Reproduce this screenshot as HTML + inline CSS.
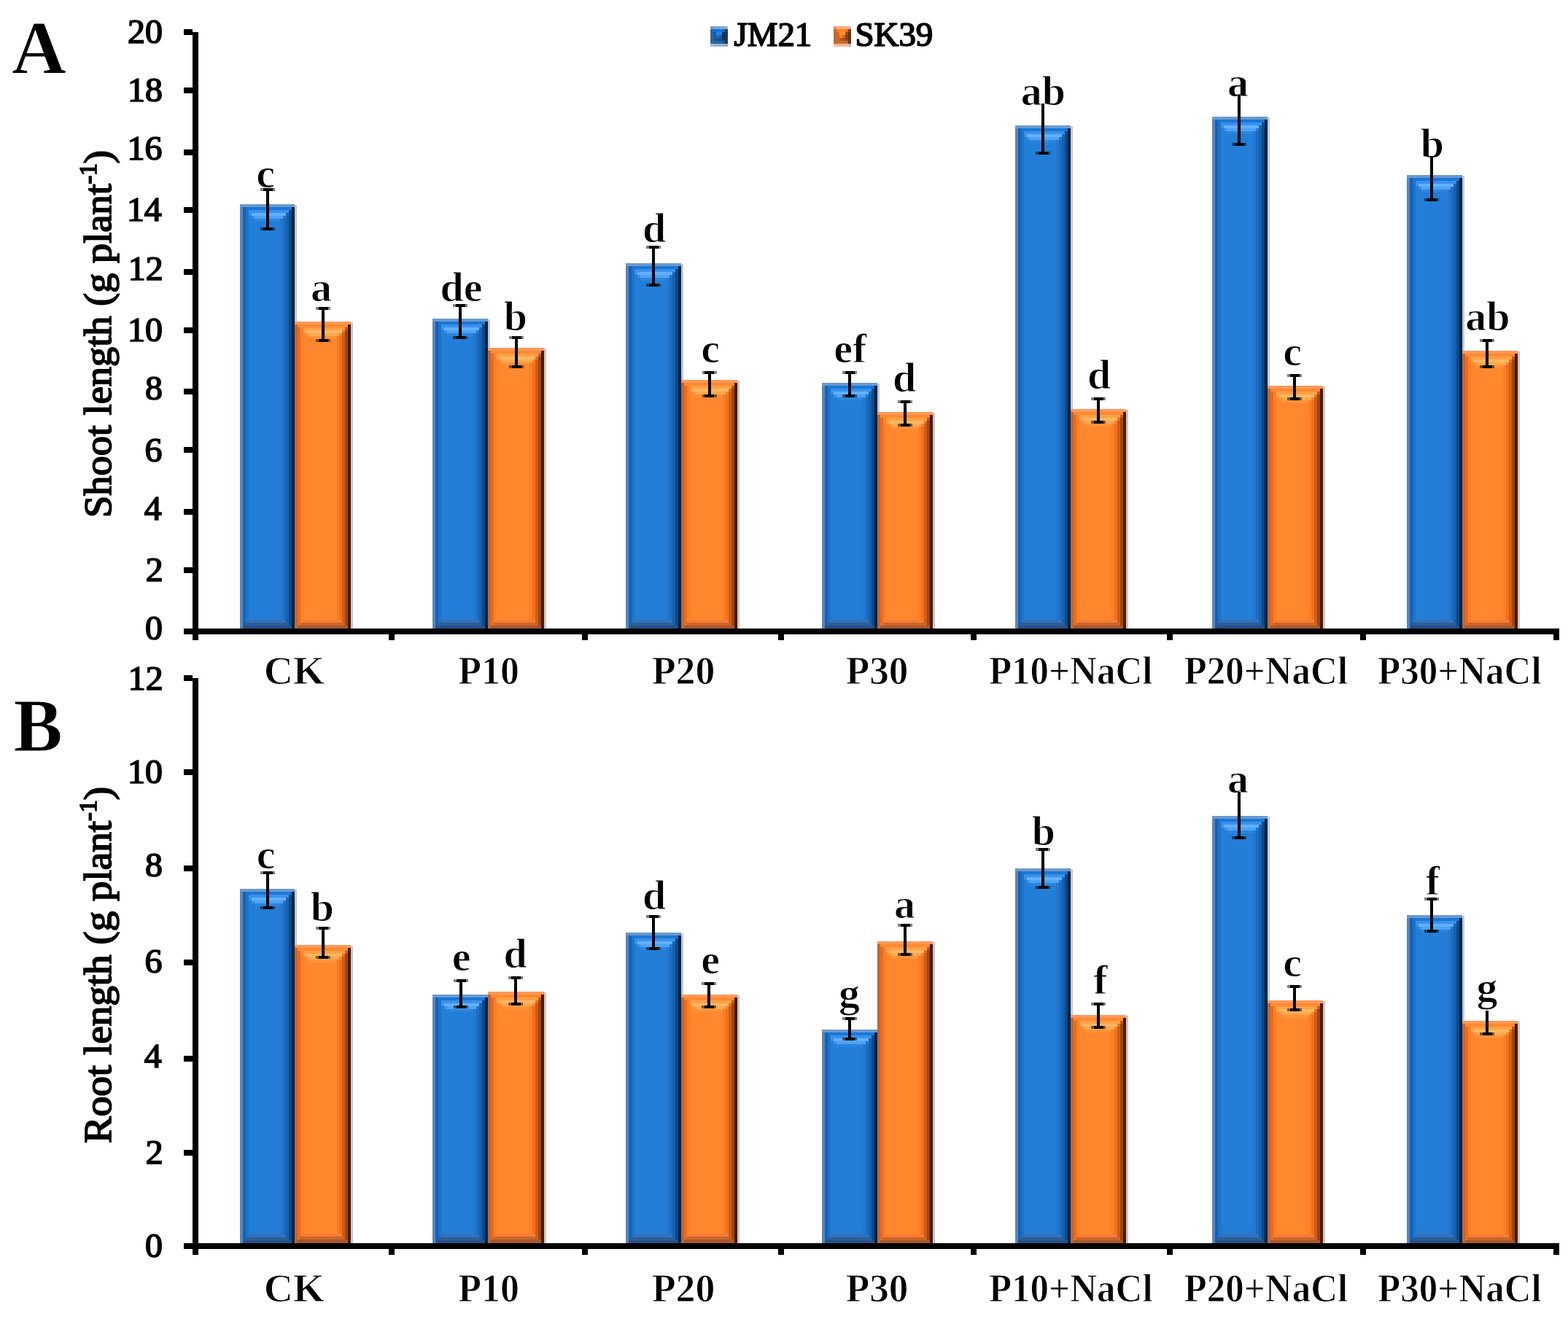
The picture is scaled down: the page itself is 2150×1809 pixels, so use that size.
<!DOCTYPE html>
<html><head><meta charset="utf-8"><title>Shoot and root length</title>
<style>html,body{margin:0;padding:0;background:#fff}svg{display:block}</style></head>
<body><svg width="2150" height="1809" viewBox="0 0 2150 1809">
<rect width="2150" height="1809" fill="#fff"/>
<g shape-rendering="crispEdges">
<rect x="404.00" y="281.00" width="3.00" height="581.00" fill="#c8c8c8"/>
<rect x="329.00" y="280.00" width="75.00" height="582.00" fill="#227ed6"/>
<rect x="329.00" y="280.00" width="3.97" height="582.00" fill="#5f84b6"/>
<rect x="332.95" y="280.00" width="3.97" height="582.00" fill="#1662b2"/>
<rect x="336.89" y="280.00" width="3.97" height="582.00" fill="#1a74cc"/>
<rect x="384.26" y="280.00" width="3.97" height="582.00" fill="#2278d0"/>
<rect x="388.21" y="280.00" width="3.97" height="582.00" fill="#1c6cc0"/>
<rect x="392.16" y="280.00" width="3.97" height="582.00" fill="#1460b0"/>
<rect x="396.11" y="280.00" width="3.97" height="582.00" fill="#0a4a8a"/>
<rect x="400.05" y="280.00" width="3.97" height="582.00" fill="#042448"/>
<rect x="329.00" y="280.00" width="75.00" height="3.95" fill="#6a98cf"/>
<rect x="336.89" y="283.95" width="63.16" height="3.97" fill="#1878d4"/>
<rect x="340.84" y="287.89" width="55.26" height="3.97" fill="#3a90ec"/>
<rect x="396.11" y="287.89" width="3.95" height="3.97" fill="#0a4e90"/>
<rect x="344.79" y="291.84" width="47.37" height="3.97" fill="#62b0fe"/>
<rect x="340.84" y="291.84" width="3.95" height="3.97" fill="#3a8ee6"/>
<rect x="392.16" y="291.84" width="3.95" height="3.97" fill="#1a66b8"/>
<rect x="348.74" y="295.79" width="39.47" height="3.97" fill="#4ea2f6"/>
<rect x="344.79" y="295.79" width="3.95" height="3.97" fill="#3a8ee6"/>
<rect x="388.21" y="295.79" width="3.95" height="3.97" fill="#2476cc"/>
<rect x="348.74" y="299.74" width="35.53" height="3.97" fill="#2a86dc"/>
<rect x="332.95" y="858.05" width="67.11" height="3.97" fill="#24528a"/>
<rect x="336.89" y="854.11" width="59.21" height="3.97" fill="#2c5e98"/>
<rect x="340.84" y="850.16" width="51.32" height="3.97" fill="#3272be"/>
<rect x="340.84" y="846.21" width="43.42" height="3.97" fill="#2a7ace"/>
<rect x="481.00" y="442.00" width="3.00" height="420.00" fill="#c8c8c8"/>
<rect x="404.00" y="441.00" width="77.00" height="421.00" fill="#ff872d"/>
<rect x="404.00" y="441.00" width="4.07" height="421.00" fill="#b8683e"/>
<rect x="408.05" y="441.00" width="4.07" height="421.00" fill="#e86c1e"/>
<rect x="412.11" y="441.00" width="4.07" height="421.00" fill="#ff7e24"/>
<rect x="460.74" y="441.00" width="4.07" height="421.00" fill="#ff7e24"/>
<rect x="464.79" y="441.00" width="4.07" height="421.00" fill="#f07020"/>
<rect x="468.84" y="441.00" width="4.07" height="421.00" fill="#d05c14"/>
<rect x="472.89" y="441.00" width="4.07" height="421.00" fill="#a04510"/>
<rect x="476.95" y="441.00" width="4.07" height="421.00" fill="#4a1a02"/>
<rect x="404.00" y="441.00" width="77.00" height="4.05" fill="#ff985a"/>
<rect x="408.05" y="445.05" width="68.89" height="4.07" fill="#ff8a2e"/>
<rect x="416.16" y="449.11" width="56.74" height="4.07" fill="#ffa048"/>
<rect x="412.11" y="449.11" width="4.05" height="4.07" fill="#ff8030"/>
<rect x="472.89" y="449.11" width="4.05" height="4.07" fill="#c85818"/>
<rect x="420.21" y="453.16" width="48.63" height="4.07" fill="#ffb862"/>
<rect x="416.16" y="453.16" width="4.05" height="4.07" fill="#ffa048"/>
<rect x="468.84" y="453.16" width="4.05" height="4.07" fill="#e87020"/>
<rect x="424.26" y="457.21" width="40.53" height="4.07" fill="#ffa850"/>
<rect x="420.21" y="457.21" width="4.05" height="4.07" fill="#ff9440"/>
<rect x="464.79" y="457.21" width="4.05" height="4.07" fill="#ff8028"/>
<rect x="424.26" y="461.26" width="36.47" height="4.07" fill="#ff9238"/>
<rect x="408.05" y="857.95" width="68.89" height="4.07" fill="#a8582a"/>
<rect x="412.11" y="853.89" width="60.79" height="4.07" fill="#cc6428"/>
<rect x="416.16" y="849.84" width="52.68" height="4.07" fill="#f47c34"/>
<rect x="669.00" y="438.00" width="3.00" height="424.00" fill="#c8c8c8"/>
<rect x="593.00" y="437.00" width="76.00" height="425.00" fill="#227ed6"/>
<rect x="593.00" y="437.00" width="4.02" height="425.00" fill="#5f84b6"/>
<rect x="597.00" y="437.00" width="4.02" height="425.00" fill="#1662b2"/>
<rect x="601.00" y="437.00" width="4.02" height="425.00" fill="#1a74cc"/>
<rect x="649.00" y="437.00" width="4.02" height="425.00" fill="#2278d0"/>
<rect x="653.00" y="437.00" width="4.02" height="425.00" fill="#1c6cc0"/>
<rect x="657.00" y="437.00" width="4.02" height="425.00" fill="#1460b0"/>
<rect x="661.00" y="437.00" width="4.02" height="425.00" fill="#0a4a8a"/>
<rect x="665.00" y="437.00" width="4.02" height="425.00" fill="#042448"/>
<rect x="593.00" y="437.00" width="76.00" height="4.00" fill="#6a98cf"/>
<rect x="601.00" y="441.00" width="64.00" height="4.02" fill="#1878d4"/>
<rect x="605.00" y="445.00" width="56.00" height="4.02" fill="#3a90ec"/>
<rect x="661.00" y="445.00" width="4.00" height="4.02" fill="#0a4e90"/>
<rect x="609.00" y="449.00" width="48.00" height="4.02" fill="#62b0fe"/>
<rect x="605.00" y="449.00" width="4.00" height="4.02" fill="#3a8ee6"/>
<rect x="657.00" y="449.00" width="4.00" height="4.02" fill="#1a66b8"/>
<rect x="613.00" y="453.00" width="40.00" height="4.02" fill="#4ea2f6"/>
<rect x="609.00" y="453.00" width="4.00" height="4.02" fill="#3a8ee6"/>
<rect x="653.00" y="453.00" width="4.00" height="4.02" fill="#2476cc"/>
<rect x="613.00" y="457.00" width="36.00" height="4.02" fill="#2a86dc"/>
<rect x="597.00" y="858.00" width="68.00" height="4.02" fill="#24528a"/>
<rect x="601.00" y="854.00" width="60.00" height="4.02" fill="#2c5e98"/>
<rect x="605.00" y="850.00" width="52.00" height="4.02" fill="#3272be"/>
<rect x="605.00" y="846.00" width="44.00" height="4.02" fill="#2a7ace"/>
<rect x="746.00" y="478.00" width="3.00" height="384.00" fill="#c8c8c8"/>
<rect x="669.00" y="477.00" width="77.00" height="385.00" fill="#ff872d"/>
<rect x="669.00" y="477.00" width="4.07" height="385.00" fill="#b8683e"/>
<rect x="673.05" y="477.00" width="4.07" height="385.00" fill="#e86c1e"/>
<rect x="677.11" y="477.00" width="4.07" height="385.00" fill="#ff7e24"/>
<rect x="725.74" y="477.00" width="4.07" height="385.00" fill="#ff7e24"/>
<rect x="729.79" y="477.00" width="4.07" height="385.00" fill="#f07020"/>
<rect x="733.84" y="477.00" width="4.07" height="385.00" fill="#d05c14"/>
<rect x="737.89" y="477.00" width="4.07" height="385.00" fill="#a04510"/>
<rect x="741.95" y="477.00" width="4.07" height="385.00" fill="#4a1a02"/>
<rect x="669.00" y="477.00" width="77.00" height="4.05" fill="#ff985a"/>
<rect x="673.05" y="481.05" width="68.89" height="4.07" fill="#ff8a2e"/>
<rect x="681.16" y="485.11" width="56.74" height="4.07" fill="#ffa048"/>
<rect x="677.11" y="485.11" width="4.05" height="4.07" fill="#ff8030"/>
<rect x="737.89" y="485.11" width="4.05" height="4.07" fill="#c85818"/>
<rect x="685.21" y="489.16" width="48.63" height="4.07" fill="#ffb862"/>
<rect x="681.16" y="489.16" width="4.05" height="4.07" fill="#ffa048"/>
<rect x="733.84" y="489.16" width="4.05" height="4.07" fill="#e87020"/>
<rect x="689.26" y="493.21" width="40.53" height="4.07" fill="#ffa850"/>
<rect x="685.21" y="493.21" width="4.05" height="4.07" fill="#ff9440"/>
<rect x="729.79" y="493.21" width="4.05" height="4.07" fill="#ff8028"/>
<rect x="689.26" y="497.26" width="36.47" height="4.07" fill="#ff9238"/>
<rect x="673.05" y="857.95" width="68.89" height="4.07" fill="#a8582a"/>
<rect x="677.11" y="853.89" width="60.79" height="4.07" fill="#cc6428"/>
<rect x="681.16" y="849.84" width="52.68" height="4.07" fill="#f47c34"/>
<rect x="934.00" y="362.00" width="3.00" height="500.00" fill="#c8c8c8"/>
<rect x="858.00" y="361.00" width="76.00" height="501.00" fill="#227ed6"/>
<rect x="858.00" y="361.00" width="4.02" height="501.00" fill="#5f84b6"/>
<rect x="862.00" y="361.00" width="4.02" height="501.00" fill="#1662b2"/>
<rect x="866.00" y="361.00" width="4.02" height="501.00" fill="#1a74cc"/>
<rect x="914.00" y="361.00" width="4.02" height="501.00" fill="#2278d0"/>
<rect x="918.00" y="361.00" width="4.02" height="501.00" fill="#1c6cc0"/>
<rect x="922.00" y="361.00" width="4.02" height="501.00" fill="#1460b0"/>
<rect x="926.00" y="361.00" width="4.02" height="501.00" fill="#0a4a8a"/>
<rect x="930.00" y="361.00" width="4.02" height="501.00" fill="#042448"/>
<rect x="858.00" y="361.00" width="76.00" height="4.00" fill="#6a98cf"/>
<rect x="866.00" y="365.00" width="64.00" height="4.02" fill="#1878d4"/>
<rect x="870.00" y="369.00" width="56.00" height="4.02" fill="#3a90ec"/>
<rect x="926.00" y="369.00" width="4.00" height="4.02" fill="#0a4e90"/>
<rect x="874.00" y="373.00" width="48.00" height="4.02" fill="#62b0fe"/>
<rect x="870.00" y="373.00" width="4.00" height="4.02" fill="#3a8ee6"/>
<rect x="922.00" y="373.00" width="4.00" height="4.02" fill="#1a66b8"/>
<rect x="878.00" y="377.00" width="40.00" height="4.02" fill="#4ea2f6"/>
<rect x="874.00" y="377.00" width="4.00" height="4.02" fill="#3a8ee6"/>
<rect x="918.00" y="377.00" width="4.00" height="4.02" fill="#2476cc"/>
<rect x="878.00" y="381.00" width="36.00" height="4.02" fill="#2a86dc"/>
<rect x="862.00" y="858.00" width="68.00" height="4.02" fill="#24528a"/>
<rect x="866.00" y="854.00" width="60.00" height="4.02" fill="#2c5e98"/>
<rect x="870.00" y="850.00" width="52.00" height="4.02" fill="#3272be"/>
<rect x="870.00" y="846.00" width="44.00" height="4.02" fill="#2a7ace"/>
<rect x="1011.00" y="522.00" width="3.00" height="340.00" fill="#c8c8c8"/>
<rect x="934.00" y="521.00" width="77.00" height="341.00" fill="#ff872d"/>
<rect x="934.00" y="521.00" width="4.07" height="341.00" fill="#b8683e"/>
<rect x="938.05" y="521.00" width="4.07" height="341.00" fill="#e86c1e"/>
<rect x="942.11" y="521.00" width="4.07" height="341.00" fill="#ff7e24"/>
<rect x="990.74" y="521.00" width="4.07" height="341.00" fill="#ff7e24"/>
<rect x="994.79" y="521.00" width="4.07" height="341.00" fill="#f07020"/>
<rect x="998.84" y="521.00" width="4.07" height="341.00" fill="#d05c14"/>
<rect x="1002.89" y="521.00" width="4.07" height="341.00" fill="#a04510"/>
<rect x="1006.95" y="521.00" width="4.07" height="341.00" fill="#4a1a02"/>
<rect x="934.00" y="521.00" width="77.00" height="4.05" fill="#ff985a"/>
<rect x="938.05" y="525.05" width="68.89" height="4.07" fill="#ff8a2e"/>
<rect x="946.16" y="529.11" width="56.74" height="4.07" fill="#ffa048"/>
<rect x="942.11" y="529.11" width="4.05" height="4.07" fill="#ff8030"/>
<rect x="1002.89" y="529.11" width="4.05" height="4.07" fill="#c85818"/>
<rect x="950.21" y="533.16" width="48.63" height="4.07" fill="#ffb862"/>
<rect x="946.16" y="533.16" width="4.05" height="4.07" fill="#ffa048"/>
<rect x="998.84" y="533.16" width="4.05" height="4.07" fill="#e87020"/>
<rect x="954.26" y="537.21" width="40.53" height="4.07" fill="#ffa850"/>
<rect x="950.21" y="537.21" width="4.05" height="4.07" fill="#ff9440"/>
<rect x="994.79" y="537.21" width="4.05" height="4.07" fill="#ff8028"/>
<rect x="954.26" y="541.26" width="36.47" height="4.07" fill="#ff9238"/>
<rect x="938.05" y="857.95" width="68.89" height="4.07" fill="#a8582a"/>
<rect x="942.11" y="853.89" width="60.79" height="4.07" fill="#cc6428"/>
<rect x="946.16" y="849.84" width="52.68" height="4.07" fill="#f47c34"/>
<rect x="1203.00" y="526.00" width="3.00" height="336.00" fill="#c8c8c8"/>
<rect x="1127.00" y="525.00" width="76.00" height="337.00" fill="#227ed6"/>
<rect x="1127.00" y="525.00" width="4.02" height="337.00" fill="#5f84b6"/>
<rect x="1131.00" y="525.00" width="4.02" height="337.00" fill="#1662b2"/>
<rect x="1135.00" y="525.00" width="4.02" height="337.00" fill="#1a74cc"/>
<rect x="1183.00" y="525.00" width="4.02" height="337.00" fill="#2278d0"/>
<rect x="1187.00" y="525.00" width="4.02" height="337.00" fill="#1c6cc0"/>
<rect x="1191.00" y="525.00" width="4.02" height="337.00" fill="#1460b0"/>
<rect x="1195.00" y="525.00" width="4.02" height="337.00" fill="#0a4a8a"/>
<rect x="1199.00" y="525.00" width="4.02" height="337.00" fill="#042448"/>
<rect x="1127.00" y="525.00" width="76.00" height="4.00" fill="#6a98cf"/>
<rect x="1135.00" y="529.00" width="64.00" height="4.02" fill="#1878d4"/>
<rect x="1139.00" y="533.00" width="56.00" height="4.02" fill="#3a90ec"/>
<rect x="1195.00" y="533.00" width="4.00" height="4.02" fill="#0a4e90"/>
<rect x="1143.00" y="537.00" width="48.00" height="4.02" fill="#62b0fe"/>
<rect x="1139.00" y="537.00" width="4.00" height="4.02" fill="#3a8ee6"/>
<rect x="1191.00" y="537.00" width="4.00" height="4.02" fill="#1a66b8"/>
<rect x="1147.00" y="541.00" width="40.00" height="4.02" fill="#4ea2f6"/>
<rect x="1143.00" y="541.00" width="4.00" height="4.02" fill="#3a8ee6"/>
<rect x="1187.00" y="541.00" width="4.00" height="4.02" fill="#2476cc"/>
<rect x="1147.00" y="545.00" width="36.00" height="4.02" fill="#2a86dc"/>
<rect x="1131.00" y="858.00" width="68.00" height="4.02" fill="#24528a"/>
<rect x="1135.00" y="854.00" width="60.00" height="4.02" fill="#2c5e98"/>
<rect x="1139.00" y="850.00" width="52.00" height="4.02" fill="#3272be"/>
<rect x="1139.00" y="846.00" width="44.00" height="4.02" fill="#2a7ace"/>
<rect x="1279.00" y="566.00" width="3.00" height="296.00" fill="#c8c8c8"/>
<rect x="1203.00" y="565.00" width="76.00" height="297.00" fill="#ff872d"/>
<rect x="1203.00" y="565.00" width="4.02" height="297.00" fill="#b8683e"/>
<rect x="1207.00" y="565.00" width="4.02" height="297.00" fill="#e86c1e"/>
<rect x="1211.00" y="565.00" width="4.02" height="297.00" fill="#ff7e24"/>
<rect x="1259.00" y="565.00" width="4.02" height="297.00" fill="#ff7e24"/>
<rect x="1263.00" y="565.00" width="4.02" height="297.00" fill="#f07020"/>
<rect x="1267.00" y="565.00" width="4.02" height="297.00" fill="#d05c14"/>
<rect x="1271.00" y="565.00" width="4.02" height="297.00" fill="#a04510"/>
<rect x="1275.00" y="565.00" width="4.02" height="297.00" fill="#4a1a02"/>
<rect x="1203.00" y="565.00" width="76.00" height="4.00" fill="#ff985a"/>
<rect x="1207.00" y="569.00" width="68.00" height="4.02" fill="#ff8a2e"/>
<rect x="1215.00" y="573.00" width="56.00" height="4.02" fill="#ffa048"/>
<rect x="1211.00" y="573.00" width="4.00" height="4.02" fill="#ff8030"/>
<rect x="1271.00" y="573.00" width="4.00" height="4.02" fill="#c85818"/>
<rect x="1219.00" y="577.00" width="48.00" height="4.02" fill="#ffb862"/>
<rect x="1215.00" y="577.00" width="4.00" height="4.02" fill="#ffa048"/>
<rect x="1267.00" y="577.00" width="4.00" height="4.02" fill="#e87020"/>
<rect x="1223.00" y="581.00" width="40.00" height="4.02" fill="#ffa850"/>
<rect x="1219.00" y="581.00" width="4.00" height="4.02" fill="#ff9440"/>
<rect x="1263.00" y="581.00" width="4.00" height="4.02" fill="#ff8028"/>
<rect x="1223.00" y="585.00" width="36.00" height="4.02" fill="#ff9238"/>
<rect x="1207.00" y="858.00" width="68.00" height="4.02" fill="#a8582a"/>
<rect x="1211.00" y="854.00" width="60.00" height="4.02" fill="#cc6428"/>
<rect x="1215.00" y="850.00" width="52.00" height="4.02" fill="#f47c34"/>
<rect x="1468.00" y="173.00" width="3.00" height="689.00" fill="#c8c8c8"/>
<rect x="1392.00" y="172.00" width="76.00" height="690.00" fill="#227ed6"/>
<rect x="1392.00" y="172.00" width="4.02" height="690.00" fill="#5f84b6"/>
<rect x="1396.00" y="172.00" width="4.02" height="690.00" fill="#1662b2"/>
<rect x="1400.00" y="172.00" width="4.02" height="690.00" fill="#1a74cc"/>
<rect x="1448.00" y="172.00" width="4.02" height="690.00" fill="#2278d0"/>
<rect x="1452.00" y="172.00" width="4.02" height="690.00" fill="#1c6cc0"/>
<rect x="1456.00" y="172.00" width="4.02" height="690.00" fill="#1460b0"/>
<rect x="1460.00" y="172.00" width="4.02" height="690.00" fill="#0a4a8a"/>
<rect x="1464.00" y="172.00" width="4.02" height="690.00" fill="#042448"/>
<rect x="1392.00" y="172.00" width="76.00" height="4.00" fill="#6a98cf"/>
<rect x="1400.00" y="176.00" width="64.00" height="4.02" fill="#1878d4"/>
<rect x="1404.00" y="180.00" width="56.00" height="4.02" fill="#3a90ec"/>
<rect x="1460.00" y="180.00" width="4.00" height="4.02" fill="#0a4e90"/>
<rect x="1408.00" y="184.00" width="48.00" height="4.02" fill="#62b0fe"/>
<rect x="1404.00" y="184.00" width="4.00" height="4.02" fill="#3a8ee6"/>
<rect x="1456.00" y="184.00" width="4.00" height="4.02" fill="#1a66b8"/>
<rect x="1412.00" y="188.00" width="40.00" height="4.02" fill="#4ea2f6"/>
<rect x="1408.00" y="188.00" width="4.00" height="4.02" fill="#3a8ee6"/>
<rect x="1452.00" y="188.00" width="4.00" height="4.02" fill="#2476cc"/>
<rect x="1412.00" y="192.00" width="36.00" height="4.02" fill="#2a86dc"/>
<rect x="1396.00" y="858.00" width="68.00" height="4.02" fill="#24528a"/>
<rect x="1400.00" y="854.00" width="60.00" height="4.02" fill="#2c5e98"/>
<rect x="1404.00" y="850.00" width="52.00" height="4.02" fill="#3272be"/>
<rect x="1404.00" y="846.00" width="44.00" height="4.02" fill="#2a7ace"/>
<rect x="1544.00" y="562.00" width="3.00" height="300.00" fill="#c8c8c8"/>
<rect x="1468.00" y="561.00" width="76.00" height="301.00" fill="#ff872d"/>
<rect x="1468.00" y="561.00" width="4.02" height="301.00" fill="#b8683e"/>
<rect x="1472.00" y="561.00" width="4.02" height="301.00" fill="#e86c1e"/>
<rect x="1476.00" y="561.00" width="4.02" height="301.00" fill="#ff7e24"/>
<rect x="1524.00" y="561.00" width="4.02" height="301.00" fill="#ff7e24"/>
<rect x="1528.00" y="561.00" width="4.02" height="301.00" fill="#f07020"/>
<rect x="1532.00" y="561.00" width="4.02" height="301.00" fill="#d05c14"/>
<rect x="1536.00" y="561.00" width="4.02" height="301.00" fill="#a04510"/>
<rect x="1540.00" y="561.00" width="4.02" height="301.00" fill="#4a1a02"/>
<rect x="1468.00" y="561.00" width="76.00" height="4.00" fill="#ff985a"/>
<rect x="1472.00" y="565.00" width="68.00" height="4.02" fill="#ff8a2e"/>
<rect x="1480.00" y="569.00" width="56.00" height="4.02" fill="#ffa048"/>
<rect x="1476.00" y="569.00" width="4.00" height="4.02" fill="#ff8030"/>
<rect x="1536.00" y="569.00" width="4.00" height="4.02" fill="#c85818"/>
<rect x="1484.00" y="573.00" width="48.00" height="4.02" fill="#ffb862"/>
<rect x="1480.00" y="573.00" width="4.00" height="4.02" fill="#ffa048"/>
<rect x="1532.00" y="573.00" width="4.00" height="4.02" fill="#e87020"/>
<rect x="1488.00" y="577.00" width="40.00" height="4.02" fill="#ffa850"/>
<rect x="1484.00" y="577.00" width="4.00" height="4.02" fill="#ff9440"/>
<rect x="1528.00" y="577.00" width="4.00" height="4.02" fill="#ff8028"/>
<rect x="1488.00" y="581.00" width="36.00" height="4.02" fill="#ff9238"/>
<rect x="1472.00" y="858.00" width="68.00" height="4.02" fill="#a8582a"/>
<rect x="1476.00" y="854.00" width="60.00" height="4.02" fill="#cc6428"/>
<rect x="1480.00" y="850.00" width="52.00" height="4.02" fill="#f47c34"/>
<rect x="1738.00" y="161.00" width="3.00" height="701.00" fill="#c8c8c8"/>
<rect x="1662.00" y="160.00" width="76.00" height="702.00" fill="#227ed6"/>
<rect x="1662.00" y="160.00" width="4.02" height="702.00" fill="#5f84b6"/>
<rect x="1666.00" y="160.00" width="4.02" height="702.00" fill="#1662b2"/>
<rect x="1670.00" y="160.00" width="4.02" height="702.00" fill="#1a74cc"/>
<rect x="1718.00" y="160.00" width="4.02" height="702.00" fill="#2278d0"/>
<rect x="1722.00" y="160.00" width="4.02" height="702.00" fill="#1c6cc0"/>
<rect x="1726.00" y="160.00" width="4.02" height="702.00" fill="#1460b0"/>
<rect x="1730.00" y="160.00" width="4.02" height="702.00" fill="#0a4a8a"/>
<rect x="1734.00" y="160.00" width="4.02" height="702.00" fill="#042448"/>
<rect x="1662.00" y="160.00" width="76.00" height="4.00" fill="#6a98cf"/>
<rect x="1670.00" y="164.00" width="64.00" height="4.02" fill="#1878d4"/>
<rect x="1674.00" y="168.00" width="56.00" height="4.02" fill="#3a90ec"/>
<rect x="1730.00" y="168.00" width="4.00" height="4.02" fill="#0a4e90"/>
<rect x="1678.00" y="172.00" width="48.00" height="4.02" fill="#62b0fe"/>
<rect x="1674.00" y="172.00" width="4.00" height="4.02" fill="#3a8ee6"/>
<rect x="1726.00" y="172.00" width="4.00" height="4.02" fill="#1a66b8"/>
<rect x="1682.00" y="176.00" width="40.00" height="4.02" fill="#4ea2f6"/>
<rect x="1678.00" y="176.00" width="4.00" height="4.02" fill="#3a8ee6"/>
<rect x="1722.00" y="176.00" width="4.00" height="4.02" fill="#2476cc"/>
<rect x="1682.00" y="180.00" width="36.00" height="4.02" fill="#2a86dc"/>
<rect x="1666.00" y="858.00" width="68.00" height="4.02" fill="#24528a"/>
<rect x="1670.00" y="854.00" width="60.00" height="4.02" fill="#2c5e98"/>
<rect x="1674.00" y="850.00" width="52.00" height="4.02" fill="#3272be"/>
<rect x="1674.00" y="846.00" width="44.00" height="4.02" fill="#2a7ace"/>
<rect x="1814.00" y="530.00" width="3.00" height="332.00" fill="#c8c8c8"/>
<rect x="1738.00" y="529.00" width="76.00" height="333.00" fill="#ff872d"/>
<rect x="1738.00" y="529.00" width="4.02" height="333.00" fill="#b8683e"/>
<rect x="1742.00" y="529.00" width="4.02" height="333.00" fill="#e86c1e"/>
<rect x="1746.00" y="529.00" width="4.02" height="333.00" fill="#ff7e24"/>
<rect x="1794.00" y="529.00" width="4.02" height="333.00" fill="#ff7e24"/>
<rect x="1798.00" y="529.00" width="4.02" height="333.00" fill="#f07020"/>
<rect x="1802.00" y="529.00" width="4.02" height="333.00" fill="#d05c14"/>
<rect x="1806.00" y="529.00" width="4.02" height="333.00" fill="#a04510"/>
<rect x="1810.00" y="529.00" width="4.02" height="333.00" fill="#4a1a02"/>
<rect x="1738.00" y="529.00" width="76.00" height="4.00" fill="#ff985a"/>
<rect x="1742.00" y="533.00" width="68.00" height="4.02" fill="#ff8a2e"/>
<rect x="1750.00" y="537.00" width="56.00" height="4.02" fill="#ffa048"/>
<rect x="1746.00" y="537.00" width="4.00" height="4.02" fill="#ff8030"/>
<rect x="1806.00" y="537.00" width="4.00" height="4.02" fill="#c85818"/>
<rect x="1754.00" y="541.00" width="48.00" height="4.02" fill="#ffb862"/>
<rect x="1750.00" y="541.00" width="4.00" height="4.02" fill="#ffa048"/>
<rect x="1802.00" y="541.00" width="4.00" height="4.02" fill="#e87020"/>
<rect x="1758.00" y="545.00" width="40.00" height="4.02" fill="#ffa850"/>
<rect x="1754.00" y="545.00" width="4.00" height="4.02" fill="#ff9440"/>
<rect x="1798.00" y="545.00" width="4.00" height="4.02" fill="#ff8028"/>
<rect x="1758.00" y="549.00" width="36.00" height="4.02" fill="#ff9238"/>
<rect x="1742.00" y="858.00" width="68.00" height="4.02" fill="#a8582a"/>
<rect x="1746.00" y="854.00" width="60.00" height="4.02" fill="#cc6428"/>
<rect x="1750.00" y="850.00" width="52.00" height="4.02" fill="#f47c34"/>
<rect x="2005.00" y="241.00" width="3.00" height="621.00" fill="#c8c8c8"/>
<rect x="1929.00" y="240.00" width="76.00" height="622.00" fill="#227ed6"/>
<rect x="1929.00" y="240.00" width="4.02" height="622.00" fill="#5f84b6"/>
<rect x="1933.00" y="240.00" width="4.02" height="622.00" fill="#1662b2"/>
<rect x="1937.00" y="240.00" width="4.02" height="622.00" fill="#1a74cc"/>
<rect x="1985.00" y="240.00" width="4.02" height="622.00" fill="#2278d0"/>
<rect x="1989.00" y="240.00" width="4.02" height="622.00" fill="#1c6cc0"/>
<rect x="1993.00" y="240.00" width="4.02" height="622.00" fill="#1460b0"/>
<rect x="1997.00" y="240.00" width="4.02" height="622.00" fill="#0a4a8a"/>
<rect x="2001.00" y="240.00" width="4.02" height="622.00" fill="#042448"/>
<rect x="1929.00" y="240.00" width="76.00" height="4.00" fill="#6a98cf"/>
<rect x="1937.00" y="244.00" width="64.00" height="4.02" fill="#1878d4"/>
<rect x="1941.00" y="248.00" width="56.00" height="4.02" fill="#3a90ec"/>
<rect x="1997.00" y="248.00" width="4.00" height="4.02" fill="#0a4e90"/>
<rect x="1945.00" y="252.00" width="48.00" height="4.02" fill="#62b0fe"/>
<rect x="1941.00" y="252.00" width="4.00" height="4.02" fill="#3a8ee6"/>
<rect x="1993.00" y="252.00" width="4.00" height="4.02" fill="#1a66b8"/>
<rect x="1949.00" y="256.00" width="40.00" height="4.02" fill="#4ea2f6"/>
<rect x="1945.00" y="256.00" width="4.00" height="4.02" fill="#3a8ee6"/>
<rect x="1989.00" y="256.00" width="4.00" height="4.02" fill="#2476cc"/>
<rect x="1949.00" y="260.00" width="36.00" height="4.02" fill="#2a86dc"/>
<rect x="1933.00" y="858.00" width="68.00" height="4.02" fill="#24528a"/>
<rect x="1937.00" y="854.00" width="60.00" height="4.02" fill="#2c5e98"/>
<rect x="1941.00" y="850.00" width="52.00" height="4.02" fill="#3272be"/>
<rect x="1941.00" y="846.00" width="44.00" height="4.02" fill="#2a7ace"/>
<rect x="2081.00" y="482.00" width="3.00" height="380.00" fill="#c8c8c8"/>
<rect x="2005.00" y="481.00" width="76.00" height="381.00" fill="#ff872d"/>
<rect x="2005.00" y="481.00" width="4.02" height="381.00" fill="#b8683e"/>
<rect x="2009.00" y="481.00" width="4.02" height="381.00" fill="#e86c1e"/>
<rect x="2013.00" y="481.00" width="4.02" height="381.00" fill="#ff7e24"/>
<rect x="2061.00" y="481.00" width="4.02" height="381.00" fill="#ff7e24"/>
<rect x="2065.00" y="481.00" width="4.02" height="381.00" fill="#f07020"/>
<rect x="2069.00" y="481.00" width="4.02" height="381.00" fill="#d05c14"/>
<rect x="2073.00" y="481.00" width="4.02" height="381.00" fill="#a04510"/>
<rect x="2077.00" y="481.00" width="4.02" height="381.00" fill="#4a1a02"/>
<rect x="2005.00" y="481.00" width="76.00" height="4.00" fill="#ff985a"/>
<rect x="2009.00" y="485.00" width="68.00" height="4.02" fill="#ff8a2e"/>
<rect x="2017.00" y="489.00" width="56.00" height="4.02" fill="#ffa048"/>
<rect x="2013.00" y="489.00" width="4.00" height="4.02" fill="#ff8030"/>
<rect x="2073.00" y="489.00" width="4.00" height="4.02" fill="#c85818"/>
<rect x="2021.00" y="493.00" width="48.00" height="4.02" fill="#ffb862"/>
<rect x="2017.00" y="493.00" width="4.00" height="4.02" fill="#ffa048"/>
<rect x="2069.00" y="493.00" width="4.00" height="4.02" fill="#e87020"/>
<rect x="2025.00" y="497.00" width="40.00" height="4.02" fill="#ffa850"/>
<rect x="2021.00" y="497.00" width="4.00" height="4.02" fill="#ff9440"/>
<rect x="2065.00" y="497.00" width="4.00" height="4.02" fill="#ff8028"/>
<rect x="2025.00" y="501.00" width="36.00" height="4.02" fill="#ff9238"/>
<rect x="2009.00" y="858.00" width="68.00" height="4.02" fill="#a8582a"/>
<rect x="2013.00" y="854.00" width="60.00" height="4.02" fill="#cc6428"/>
<rect x="2017.00" y="850.00" width="52.00" height="4.02" fill="#f47c34"/>
<text x="351.31" y="257.00" font-size="58" font-family="Liberation Serif, serif" font-weight="bold" stroke="#fff" stroke-width="1">c</text>
<text x="426.06" y="413.00" font-size="58" font-family="Liberation Serif, serif" font-weight="bold" stroke="#fff" stroke-width="1">a</text>
<text x="603.57" y="413.00" font-size="58" font-family="Liberation Serif, serif" font-weight="bold" stroke="#fff" stroke-width="1">de</text>
<text x="690.63" y="453.00" font-size="58" font-family="Liberation Serif, serif" font-weight="bold" stroke="#fff" stroke-width="1">b</text>
<text x="881.03" y="332.00" font-size="58" font-family="Liberation Serif, serif" font-weight="bold" stroke="#fff" stroke-width="1">d</text>
<text x="961.30" y="497.00" font-size="58" font-family="Liberation Serif, serif" font-weight="bold" stroke="#fff" stroke-width="1">c</text>
<text x="1143.22" y="497.00" font-size="58" font-family="Liberation Serif, serif" font-weight="bold" stroke="#fff" stroke-width="1">ef</text>
<text x="1224.04" y="537.00" font-size="58" font-family="Liberation Serif, serif" font-weight="bold" stroke="#fff" stroke-width="1">d</text>
<text x="1399.69" y="144.00" font-size="58" font-family="Liberation Serif, serif" font-weight="bold" stroke="#fff" stroke-width="1">ab</text>
<text x="1491.04" y="533.00" font-size="58" font-family="Liberation Serif, serif" font-weight="bold" stroke="#fff" stroke-width="1">d</text>
<text x="1683.07" y="132.00" font-size="58" font-family="Liberation Serif, serif" font-weight="bold" stroke="#fff" stroke-width="1">a</text>
<text x="1759.31" y="501.00" font-size="58" font-family="Liberation Serif, serif" font-weight="bold" stroke="#fff" stroke-width="1">c</text>
<text x="1947.63" y="216.00" font-size="58" font-family="Liberation Serif, serif" font-weight="bold" stroke="#fff" stroke-width="1">b</text>
<text x="2009.19" y="453.00" font-size="58" font-family="Liberation Serif, serif" font-weight="bold" stroke="#fff" stroke-width="1">ab</text>
<rect x="365.00" y="260.00" width="4.00" height="54.00" fill="#000"/>
<rect x="357.00" y="258.00" width="20.00" height="4.00" fill="#000" fill-opacity="0.5"/>
<rect x="360.50" y="258.00" width="13.00" height="4.00" fill="#000"/>
<rect x="357.00" y="312.00" width="20.00" height="4.00" fill="#000" fill-opacity="0.5"/>
<rect x="360.50" y="312.00" width="13.00" height="4.00" fill="#000"/>
<rect x="441.00" y="423.00" width="4.00" height="44.00" fill="#000"/>
<rect x="433.00" y="421.00" width="20.00" height="4.00" fill="#000" fill-opacity="0.5"/>
<rect x="436.50" y="421.00" width="13.00" height="4.00" fill="#000"/>
<rect x="433.00" y="465.00" width="20.00" height="4.00" fill="#000" fill-opacity="0.5"/>
<rect x="436.50" y="465.00" width="13.00" height="4.00" fill="#000"/>
<rect x="629.00" y="419.00" width="4.00" height="44.00" fill="#000"/>
<rect x="621.00" y="417.00" width="20.00" height="4.00" fill="#000" fill-opacity="0.5"/>
<rect x="624.50" y="417.00" width="13.00" height="4.00" fill="#000"/>
<rect x="621.00" y="461.00" width="20.00" height="4.00" fill="#000" fill-opacity="0.5"/>
<rect x="624.50" y="461.00" width="13.00" height="4.00" fill="#000"/>
<rect x="706.00" y="463.00" width="4.00" height="40.00" fill="#000"/>
<rect x="698.00" y="461.00" width="20.00" height="4.00" fill="#000" fill-opacity="0.5"/>
<rect x="701.50" y="461.00" width="13.00" height="4.00" fill="#000"/>
<rect x="698.00" y="501.00" width="20.00" height="4.00" fill="#000" fill-opacity="0.5"/>
<rect x="701.50" y="501.00" width="13.00" height="4.00" fill="#000"/>
<rect x="894.00" y="339.00" width="4.00" height="52.00" fill="#000"/>
<rect x="886.00" y="337.00" width="20.00" height="4.00" fill="#000" fill-opacity="0.5"/>
<rect x="889.50" y="337.00" width="13.00" height="4.00" fill="#000"/>
<rect x="886.00" y="389.00" width="20.00" height="4.00" fill="#000" fill-opacity="0.5"/>
<rect x="889.50" y="389.00" width="13.00" height="4.00" fill="#000"/>
<rect x="970.50" y="511.00" width="4.00" height="32.00" fill="#000"/>
<rect x="962.50" y="509.00" width="20.00" height="4.00" fill="#000" fill-opacity="0.5"/>
<rect x="966.00" y="509.00" width="13.00" height="4.00" fill="#000"/>
<rect x="962.50" y="541.00" width="20.00" height="4.00" fill="#000" fill-opacity="0.5"/>
<rect x="966.00" y="541.00" width="13.00" height="4.00" fill="#000"/>
<rect x="1163.00" y="511.00" width="4.00" height="32.00" fill="#000"/>
<rect x="1155.00" y="509.00" width="20.00" height="4.00" fill="#000" fill-opacity="0.5"/>
<rect x="1158.50" y="509.00" width="13.00" height="4.00" fill="#000"/>
<rect x="1155.00" y="541.00" width="20.00" height="4.00" fill="#000" fill-opacity="0.5"/>
<rect x="1158.50" y="541.00" width="13.00" height="4.00" fill="#000"/>
<rect x="1239.00" y="551.00" width="4.00" height="32.00" fill="#000"/>
<rect x="1231.00" y="549.00" width="20.00" height="4.00" fill="#000" fill-opacity="0.5"/>
<rect x="1234.50" y="549.00" width="13.00" height="4.00" fill="#000"/>
<rect x="1231.00" y="581.00" width="20.00" height="4.00" fill="#000" fill-opacity="0.5"/>
<rect x="1234.50" y="581.00" width="13.00" height="4.00" fill="#000"/>
<rect x="1428.00" y="142.00" width="4.00" height="68.00" fill="#000"/>
<rect x="1420.00" y="208.00" width="20.00" height="4.00" fill="#000" fill-opacity="0.5"/>
<rect x="1423.50" y="208.00" width="13.00" height="4.00" fill="#000"/>
<rect x="1504.00" y="547.00" width="4.00" height="32.00" fill="#000"/>
<rect x="1496.00" y="545.00" width="20.00" height="4.00" fill="#000" fill-opacity="0.5"/>
<rect x="1499.50" y="545.00" width="13.00" height="4.00" fill="#000"/>
<rect x="1496.00" y="577.00" width="20.00" height="4.00" fill="#000" fill-opacity="0.5"/>
<rect x="1499.50" y="577.00" width="13.00" height="4.00" fill="#000"/>
<rect x="1697.00" y="130.00" width="4.00" height="68.00" fill="#000"/>
<rect x="1689.00" y="196.00" width="20.00" height="4.00" fill="#000" fill-opacity="0.5"/>
<rect x="1692.50" y="196.00" width="13.00" height="4.00" fill="#000"/>
<rect x="1773.00" y="515.00" width="4.00" height="32.00" fill="#000"/>
<rect x="1765.00" y="513.00" width="20.00" height="4.00" fill="#000" fill-opacity="0.5"/>
<rect x="1768.50" y="513.00" width="13.00" height="4.00" fill="#000"/>
<rect x="1765.00" y="545.00" width="20.00" height="4.00" fill="#000" fill-opacity="0.5"/>
<rect x="1768.50" y="545.00" width="13.00" height="4.00" fill="#000"/>
<rect x="1961.00" y="214.00" width="4.00" height="60.00" fill="#000"/>
<rect x="1953.00" y="272.00" width="20.00" height="4.00" fill="#000" fill-opacity="0.5"/>
<rect x="1956.50" y="272.00" width="13.00" height="4.00" fill="#000"/>
<rect x="2037.00" y="467.00" width="4.00" height="36.00" fill="#000"/>
<rect x="2029.00" y="465.00" width="20.00" height="4.00" fill="#000" fill-opacity="0.5"/>
<rect x="2032.50" y="465.00" width="13.00" height="4.00" fill="#000"/>
<rect x="2029.00" y="501.00" width="20.00" height="4.00" fill="#000" fill-opacity="0.5"/>
<rect x="2032.50" y="501.00" width="13.00" height="4.00" fill="#000"/>
<rect x="264.00" y="43.60" width="8.00" height="834.40" fill="#000"/>
<rect x="252.00" y="862.00" width="1886.00" height="8.00" fill="#000"/>
<rect x="252.00" y="39.60" width="12.00" height="8.00" fill="#000"/>
<text transform="translate(175.07,58.56) scale(1.0400,1)" font-size="46" font-family="Liberation Serif, serif" stroke="#000" stroke-width="1.7">20</text>
<rect x="252.00" y="120.00" width="12.00" height="8.00" fill="#000"/>
<text transform="translate(175.07,138.66) scale(1.0400,1)" font-size="46" font-family="Liberation Serif, serif" stroke="#000" stroke-width="1.7">18</text>
<rect x="252.00" y="204.50" width="12.00" height="8.00" fill="#000"/>
<text transform="translate(174.60,219.35) scale(1.0400,1)" font-size="46" font-family="Liberation Serif, serif" stroke="#000" stroke-width="1.7">16</text>
<rect x="252.00" y="284.00" width="12.00" height="8.00" fill="#000"/>
<text transform="translate(173.88,303.06) scale(1.0400,1)" font-size="46" font-family="Liberation Serif, serif" stroke="#000" stroke-width="1.7">14</text>
<rect x="252.00" y="369.00" width="12.00" height="8.00" fill="#000"/>
<text transform="translate(175.79,384.18) scale(1.0400,1)" font-size="46" font-family="Liberation Serif, serif" stroke="#000" stroke-width="1.7">12</text>
<rect x="252.00" y="448.50" width="12.00" height="8.00" fill="#000"/>
<text transform="translate(175.07,468.06) scale(1.0400,1)" font-size="46" font-family="Liberation Serif, serif" stroke="#000" stroke-width="1.7">10</text>
<rect x="252.00" y="533.00" width="12.00" height="8.00" fill="#000"/>
<text transform="translate(198.99,548.07) scale(1.0400,1)" font-size="46" font-family="Liberation Serif, serif" stroke="#000" stroke-width="1.7">8</text>
<rect x="252.00" y="613.00" width="12.00" height="8.00" fill="#000"/>
<text transform="translate(198.52,632.65) scale(1.0400,1)" font-size="46" font-family="Liberation Serif, serif" stroke="#000" stroke-width="1.7">6</text>
<rect x="252.00" y="697.50" width="12.00" height="8.00" fill="#000"/>
<text transform="translate(197.80,712.68) scale(1.0400,1)" font-size="46" font-family="Liberation Serif, serif" stroke="#000" stroke-width="1.7">4</text>
<rect x="252.00" y="778.00" width="12.00" height="8.00" fill="#000"/>
<text transform="translate(199.71,796.88) scale(1.0400,1)" font-size="46" font-family="Liberation Serif, serif" stroke="#000" stroke-width="1.7">2</text>
<rect x="252.00" y="862.00" width="12.00" height="8.00" fill="#000"/>
<text transform="translate(198.99,876.57) scale(1.0400,1)" font-size="46" font-family="Liberation Serif, serif" stroke="#000" stroke-width="1.7">0</text>
<rect x="533.00" y="866.00" width="8.00" height="12.00" fill="#000"/>
<rect x="798.00" y="866.00" width="8.00" height="12.00" fill="#000"/>
<rect x="1067.00" y="866.00" width="8.00" height="12.00" fill="#000"/>
<rect x="1331.00" y="866.00" width="8.00" height="12.00" fill="#000"/>
<rect x="1600.00" y="866.00" width="8.00" height="12.00" fill="#000"/>
<rect x="1865.00" y="866.00" width="8.00" height="12.00" fill="#000"/>
<rect x="2130.00" y="866.00" width="8.00" height="12.00" fill="#000"/>
<text transform="translate(361.72,938.00) scale(1.0262,1)" font-size="54.14" font-family="Liberation Serif, serif" font-weight="bold" stroke="#fff" stroke-width="1">CK</text>
<text transform="translate(628.22,938.00) scale(0.9591,1)" font-size="54.14" font-family="Liberation Serif, serif" font-weight="bold" stroke="#fff" stroke-width="1">P10</text>
<text transform="translate(893.69,938.00) scale(0.9947,1)" font-size="54.14" font-family="Liberation Serif, serif" font-weight="bold" stroke="#fff" stroke-width="1">P20</text>
<text transform="translate(1159.70,938.00) scale(0.9828,1)" font-size="54.14" font-family="Liberation Serif, serif" font-weight="bold" stroke="#fff" stroke-width="1">P30</text>
<text transform="translate(1355.92,938.00) scale(0.9426,1)" font-size="54.14" font-family="Liberation Serif, serif" font-weight="bold" stroke="#fff" stroke-width="1">P10+NaCl</text>
<text transform="translate(1623.52,938.00) scale(0.9426,1)" font-size="54.14" font-family="Liberation Serif, serif" font-weight="bold" stroke="#fff" stroke-width="1">P20+NaCl</text>
<text transform="translate(1889.02,938.00) scale(0.9426,1)" font-size="54.14" font-family="Liberation Serif, serif" font-weight="bold" stroke="#fff" stroke-width="1">P30+NaCl</text>
<rect x="404.00" y="1220.00" width="3.00" height="484.50" fill="#c8c8c8"/>
<rect x="329.00" y="1219.00" width="75.00" height="485.50" fill="#227ed6"/>
<rect x="329.00" y="1219.00" width="3.97" height="485.50" fill="#5f84b6"/>
<rect x="332.95" y="1219.00" width="3.97" height="485.50" fill="#1662b2"/>
<rect x="336.89" y="1219.00" width="3.97" height="485.50" fill="#1a74cc"/>
<rect x="384.26" y="1219.00" width="3.97" height="485.50" fill="#2278d0"/>
<rect x="388.21" y="1219.00" width="3.97" height="485.50" fill="#1c6cc0"/>
<rect x="392.16" y="1219.00" width="3.97" height="485.50" fill="#1460b0"/>
<rect x="396.11" y="1219.00" width="3.97" height="485.50" fill="#0a4a8a"/>
<rect x="400.05" y="1219.00" width="3.97" height="485.50" fill="#042448"/>
<rect x="329.00" y="1219.00" width="75.00" height="3.95" fill="#6a98cf"/>
<rect x="336.89" y="1222.95" width="63.16" height="3.97" fill="#1878d4"/>
<rect x="340.84" y="1226.89" width="55.26" height="3.97" fill="#3a90ec"/>
<rect x="396.11" y="1226.89" width="3.95" height="3.97" fill="#0a4e90"/>
<rect x="344.79" y="1230.84" width="47.37" height="3.97" fill="#62b0fe"/>
<rect x="340.84" y="1230.84" width="3.95" height="3.97" fill="#3a8ee6"/>
<rect x="392.16" y="1230.84" width="3.95" height="3.97" fill="#1a66b8"/>
<rect x="348.74" y="1234.79" width="39.47" height="3.97" fill="#4ea2f6"/>
<rect x="344.79" y="1234.79" width="3.95" height="3.97" fill="#3a8ee6"/>
<rect x="388.21" y="1234.79" width="3.95" height="3.97" fill="#2476cc"/>
<rect x="348.74" y="1238.74" width="35.53" height="3.97" fill="#2a86dc"/>
<rect x="332.95" y="1700.55" width="67.11" height="3.97" fill="#24528a"/>
<rect x="336.89" y="1696.61" width="59.21" height="3.97" fill="#2c5e98"/>
<rect x="340.84" y="1692.66" width="51.32" height="3.97" fill="#3272be"/>
<rect x="340.84" y="1688.71" width="43.42" height="3.97" fill="#2a7ace"/>
<rect x="481.00" y="1296.50" width="3.00" height="408.00" fill="#c8c8c8"/>
<rect x="404.00" y="1295.50" width="77.00" height="409.00" fill="#ff872d"/>
<rect x="404.00" y="1295.50" width="4.07" height="409.00" fill="#b8683e"/>
<rect x="408.05" y="1295.50" width="4.07" height="409.00" fill="#e86c1e"/>
<rect x="412.11" y="1295.50" width="4.07" height="409.00" fill="#ff7e24"/>
<rect x="460.74" y="1295.50" width="4.07" height="409.00" fill="#ff7e24"/>
<rect x="464.79" y="1295.50" width="4.07" height="409.00" fill="#f07020"/>
<rect x="468.84" y="1295.50" width="4.07" height="409.00" fill="#d05c14"/>
<rect x="472.89" y="1295.50" width="4.07" height="409.00" fill="#a04510"/>
<rect x="476.95" y="1295.50" width="4.07" height="409.00" fill="#4a1a02"/>
<rect x="404.00" y="1295.50" width="77.00" height="4.05" fill="#ff985a"/>
<rect x="408.05" y="1299.55" width="68.89" height="4.07" fill="#ff8a2e"/>
<rect x="416.16" y="1303.61" width="56.74" height="4.07" fill="#ffa048"/>
<rect x="412.11" y="1303.61" width="4.05" height="4.07" fill="#ff8030"/>
<rect x="472.89" y="1303.61" width="4.05" height="4.07" fill="#c85818"/>
<rect x="420.21" y="1307.66" width="48.63" height="4.07" fill="#ffb862"/>
<rect x="416.16" y="1307.66" width="4.05" height="4.07" fill="#ffa048"/>
<rect x="468.84" y="1307.66" width="4.05" height="4.07" fill="#e87020"/>
<rect x="424.26" y="1311.71" width="40.53" height="4.07" fill="#ffa850"/>
<rect x="420.21" y="1311.71" width="4.05" height="4.07" fill="#ff9440"/>
<rect x="464.79" y="1311.71" width="4.05" height="4.07" fill="#ff8028"/>
<rect x="424.26" y="1315.76" width="36.47" height="4.07" fill="#ff9238"/>
<rect x="408.05" y="1700.45" width="68.89" height="4.07" fill="#a8582a"/>
<rect x="412.11" y="1696.39" width="60.79" height="4.07" fill="#cc6428"/>
<rect x="416.16" y="1692.34" width="52.68" height="4.07" fill="#f47c34"/>
<rect x="669.00" y="1365.00" width="3.00" height="339.50" fill="#c8c8c8"/>
<rect x="593.00" y="1364.00" width="76.00" height="340.50" fill="#227ed6"/>
<rect x="593.00" y="1364.00" width="4.02" height="340.50" fill="#5f84b6"/>
<rect x="597.00" y="1364.00" width="4.02" height="340.50" fill="#1662b2"/>
<rect x="601.00" y="1364.00" width="4.02" height="340.50" fill="#1a74cc"/>
<rect x="649.00" y="1364.00" width="4.02" height="340.50" fill="#2278d0"/>
<rect x="653.00" y="1364.00" width="4.02" height="340.50" fill="#1c6cc0"/>
<rect x="657.00" y="1364.00" width="4.02" height="340.50" fill="#1460b0"/>
<rect x="661.00" y="1364.00" width="4.02" height="340.50" fill="#0a4a8a"/>
<rect x="665.00" y="1364.00" width="4.02" height="340.50" fill="#042448"/>
<rect x="593.00" y="1364.00" width="76.00" height="4.00" fill="#6a98cf"/>
<rect x="601.00" y="1368.00" width="64.00" height="4.02" fill="#1878d4"/>
<rect x="605.00" y="1372.00" width="56.00" height="4.02" fill="#3a90ec"/>
<rect x="661.00" y="1372.00" width="4.00" height="4.02" fill="#0a4e90"/>
<rect x="609.00" y="1376.00" width="48.00" height="4.02" fill="#62b0fe"/>
<rect x="605.00" y="1376.00" width="4.00" height="4.02" fill="#3a8ee6"/>
<rect x="657.00" y="1376.00" width="4.00" height="4.02" fill="#1a66b8"/>
<rect x="613.00" y="1380.00" width="40.00" height="4.02" fill="#4ea2f6"/>
<rect x="609.00" y="1380.00" width="4.00" height="4.02" fill="#3a8ee6"/>
<rect x="653.00" y="1380.00" width="4.00" height="4.02" fill="#2476cc"/>
<rect x="613.00" y="1384.00" width="36.00" height="4.02" fill="#2a86dc"/>
<rect x="597.00" y="1700.50" width="68.00" height="4.02" fill="#24528a"/>
<rect x="601.00" y="1696.50" width="60.00" height="4.02" fill="#2c5e98"/>
<rect x="605.00" y="1692.50" width="52.00" height="4.02" fill="#3272be"/>
<rect x="605.00" y="1688.50" width="44.00" height="4.02" fill="#2a7ace"/>
<rect x="746.00" y="1361.00" width="3.00" height="343.50" fill="#c8c8c8"/>
<rect x="669.00" y="1360.00" width="77.00" height="344.50" fill="#ff872d"/>
<rect x="669.00" y="1360.00" width="4.07" height="344.50" fill="#b8683e"/>
<rect x="673.05" y="1360.00" width="4.07" height="344.50" fill="#e86c1e"/>
<rect x="677.11" y="1360.00" width="4.07" height="344.50" fill="#ff7e24"/>
<rect x="725.74" y="1360.00" width="4.07" height="344.50" fill="#ff7e24"/>
<rect x="729.79" y="1360.00" width="4.07" height="344.50" fill="#f07020"/>
<rect x="733.84" y="1360.00" width="4.07" height="344.50" fill="#d05c14"/>
<rect x="737.89" y="1360.00" width="4.07" height="344.50" fill="#a04510"/>
<rect x="741.95" y="1360.00" width="4.07" height="344.50" fill="#4a1a02"/>
<rect x="669.00" y="1360.00" width="77.00" height="4.05" fill="#ff985a"/>
<rect x="673.05" y="1364.05" width="68.89" height="4.07" fill="#ff8a2e"/>
<rect x="681.16" y="1368.11" width="56.74" height="4.07" fill="#ffa048"/>
<rect x="677.11" y="1368.11" width="4.05" height="4.07" fill="#ff8030"/>
<rect x="737.89" y="1368.11" width="4.05" height="4.07" fill="#c85818"/>
<rect x="685.21" y="1372.16" width="48.63" height="4.07" fill="#ffb862"/>
<rect x="681.16" y="1372.16" width="4.05" height="4.07" fill="#ffa048"/>
<rect x="733.84" y="1372.16" width="4.05" height="4.07" fill="#e87020"/>
<rect x="689.26" y="1376.21" width="40.53" height="4.07" fill="#ffa850"/>
<rect x="685.21" y="1376.21" width="4.05" height="4.07" fill="#ff9440"/>
<rect x="729.79" y="1376.21" width="4.05" height="4.07" fill="#ff8028"/>
<rect x="689.26" y="1380.26" width="36.47" height="4.07" fill="#ff9238"/>
<rect x="673.05" y="1700.45" width="68.89" height="4.07" fill="#a8582a"/>
<rect x="677.11" y="1696.39" width="60.79" height="4.07" fill="#cc6428"/>
<rect x="681.16" y="1692.34" width="52.68" height="4.07" fill="#f47c34"/>
<rect x="934.00" y="1280.00" width="3.00" height="424.50" fill="#c8c8c8"/>
<rect x="858.00" y="1279.00" width="76.00" height="425.50" fill="#227ed6"/>
<rect x="858.00" y="1279.00" width="4.02" height="425.50" fill="#5f84b6"/>
<rect x="862.00" y="1279.00" width="4.02" height="425.50" fill="#1662b2"/>
<rect x="866.00" y="1279.00" width="4.02" height="425.50" fill="#1a74cc"/>
<rect x="914.00" y="1279.00" width="4.02" height="425.50" fill="#2278d0"/>
<rect x="918.00" y="1279.00" width="4.02" height="425.50" fill="#1c6cc0"/>
<rect x="922.00" y="1279.00" width="4.02" height="425.50" fill="#1460b0"/>
<rect x="926.00" y="1279.00" width="4.02" height="425.50" fill="#0a4a8a"/>
<rect x="930.00" y="1279.00" width="4.02" height="425.50" fill="#042448"/>
<rect x="858.00" y="1279.00" width="76.00" height="4.00" fill="#6a98cf"/>
<rect x="866.00" y="1283.00" width="64.00" height="4.02" fill="#1878d4"/>
<rect x="870.00" y="1287.00" width="56.00" height="4.02" fill="#3a90ec"/>
<rect x="926.00" y="1287.00" width="4.00" height="4.02" fill="#0a4e90"/>
<rect x="874.00" y="1291.00" width="48.00" height="4.02" fill="#62b0fe"/>
<rect x="870.00" y="1291.00" width="4.00" height="4.02" fill="#3a8ee6"/>
<rect x="922.00" y="1291.00" width="4.00" height="4.02" fill="#1a66b8"/>
<rect x="878.00" y="1295.00" width="40.00" height="4.02" fill="#4ea2f6"/>
<rect x="874.00" y="1295.00" width="4.00" height="4.02" fill="#3a8ee6"/>
<rect x="918.00" y="1295.00" width="4.00" height="4.02" fill="#2476cc"/>
<rect x="878.00" y="1299.00" width="36.00" height="4.02" fill="#2a86dc"/>
<rect x="862.00" y="1700.50" width="68.00" height="4.02" fill="#24528a"/>
<rect x="866.00" y="1696.50" width="60.00" height="4.02" fill="#2c5e98"/>
<rect x="870.00" y="1692.50" width="52.00" height="4.02" fill="#3272be"/>
<rect x="870.00" y="1688.50" width="44.00" height="4.02" fill="#2a7ace"/>
<rect x="1011.00" y="1364.60" width="3.00" height="339.90" fill="#c8c8c8"/>
<rect x="934.00" y="1363.60" width="77.00" height="340.90" fill="#ff872d"/>
<rect x="934.00" y="1363.60" width="4.07" height="340.90" fill="#b8683e"/>
<rect x="938.05" y="1363.60" width="4.07" height="340.90" fill="#e86c1e"/>
<rect x="942.11" y="1363.60" width="4.07" height="340.90" fill="#ff7e24"/>
<rect x="990.74" y="1363.60" width="4.07" height="340.90" fill="#ff7e24"/>
<rect x="994.79" y="1363.60" width="4.07" height="340.90" fill="#f07020"/>
<rect x="998.84" y="1363.60" width="4.07" height="340.90" fill="#d05c14"/>
<rect x="1002.89" y="1363.60" width="4.07" height="340.90" fill="#a04510"/>
<rect x="1006.95" y="1363.60" width="4.07" height="340.90" fill="#4a1a02"/>
<rect x="934.00" y="1363.60" width="77.00" height="4.05" fill="#ff985a"/>
<rect x="938.05" y="1367.65" width="68.89" height="4.07" fill="#ff8a2e"/>
<rect x="946.16" y="1371.71" width="56.74" height="4.07" fill="#ffa048"/>
<rect x="942.11" y="1371.71" width="4.05" height="4.07" fill="#ff8030"/>
<rect x="1002.89" y="1371.71" width="4.05" height="4.07" fill="#c85818"/>
<rect x="950.21" y="1375.76" width="48.63" height="4.07" fill="#ffb862"/>
<rect x="946.16" y="1375.76" width="4.05" height="4.07" fill="#ffa048"/>
<rect x="998.84" y="1375.76" width="4.05" height="4.07" fill="#e87020"/>
<rect x="954.26" y="1379.81" width="40.53" height="4.07" fill="#ffa850"/>
<rect x="950.21" y="1379.81" width="4.05" height="4.07" fill="#ff9440"/>
<rect x="994.79" y="1379.81" width="4.05" height="4.07" fill="#ff8028"/>
<rect x="954.26" y="1383.86" width="36.47" height="4.07" fill="#ff9238"/>
<rect x="938.05" y="1700.45" width="68.89" height="4.07" fill="#a8582a"/>
<rect x="942.11" y="1696.39" width="60.79" height="4.07" fill="#cc6428"/>
<rect x="946.16" y="1692.34" width="52.68" height="4.07" fill="#f47c34"/>
<rect x="1203.00" y="1413.00" width="3.00" height="291.50" fill="#c8c8c8"/>
<rect x="1127.00" y="1412.00" width="76.00" height="292.50" fill="#227ed6"/>
<rect x="1127.00" y="1412.00" width="4.02" height="292.50" fill="#5f84b6"/>
<rect x="1131.00" y="1412.00" width="4.02" height="292.50" fill="#1662b2"/>
<rect x="1135.00" y="1412.00" width="4.02" height="292.50" fill="#1a74cc"/>
<rect x="1183.00" y="1412.00" width="4.02" height="292.50" fill="#2278d0"/>
<rect x="1187.00" y="1412.00" width="4.02" height="292.50" fill="#1c6cc0"/>
<rect x="1191.00" y="1412.00" width="4.02" height="292.50" fill="#1460b0"/>
<rect x="1195.00" y="1412.00" width="4.02" height="292.50" fill="#0a4a8a"/>
<rect x="1199.00" y="1412.00" width="4.02" height="292.50" fill="#042448"/>
<rect x="1127.00" y="1412.00" width="76.00" height="4.00" fill="#6a98cf"/>
<rect x="1135.00" y="1416.00" width="64.00" height="4.02" fill="#1878d4"/>
<rect x="1139.00" y="1420.00" width="56.00" height="4.02" fill="#3a90ec"/>
<rect x="1195.00" y="1420.00" width="4.00" height="4.02" fill="#0a4e90"/>
<rect x="1143.00" y="1424.00" width="48.00" height="4.02" fill="#62b0fe"/>
<rect x="1139.00" y="1424.00" width="4.00" height="4.02" fill="#3a8ee6"/>
<rect x="1191.00" y="1424.00" width="4.00" height="4.02" fill="#1a66b8"/>
<rect x="1147.00" y="1428.00" width="40.00" height="4.02" fill="#4ea2f6"/>
<rect x="1143.00" y="1428.00" width="4.00" height="4.02" fill="#3a8ee6"/>
<rect x="1187.00" y="1428.00" width="4.00" height="4.02" fill="#2476cc"/>
<rect x="1147.00" y="1432.00" width="36.00" height="4.02" fill="#2a86dc"/>
<rect x="1131.00" y="1700.50" width="68.00" height="4.02" fill="#24528a"/>
<rect x="1135.00" y="1696.50" width="60.00" height="4.02" fill="#2c5e98"/>
<rect x="1139.00" y="1692.50" width="52.00" height="4.02" fill="#3272be"/>
<rect x="1139.00" y="1688.50" width="44.00" height="4.02" fill="#2a7ace"/>
<rect x="1279.00" y="1292.00" width="3.00" height="412.50" fill="#c8c8c8"/>
<rect x="1203.00" y="1291.00" width="76.00" height="413.50" fill="#ff872d"/>
<rect x="1203.00" y="1291.00" width="4.02" height="413.50" fill="#b8683e"/>
<rect x="1207.00" y="1291.00" width="4.02" height="413.50" fill="#e86c1e"/>
<rect x="1211.00" y="1291.00" width="4.02" height="413.50" fill="#ff7e24"/>
<rect x="1259.00" y="1291.00" width="4.02" height="413.50" fill="#ff7e24"/>
<rect x="1263.00" y="1291.00" width="4.02" height="413.50" fill="#f07020"/>
<rect x="1267.00" y="1291.00" width="4.02" height="413.50" fill="#d05c14"/>
<rect x="1271.00" y="1291.00" width="4.02" height="413.50" fill="#a04510"/>
<rect x="1275.00" y="1291.00" width="4.02" height="413.50" fill="#4a1a02"/>
<rect x="1203.00" y="1291.00" width="76.00" height="4.00" fill="#ff985a"/>
<rect x="1207.00" y="1295.00" width="68.00" height="4.02" fill="#ff8a2e"/>
<rect x="1215.00" y="1299.00" width="56.00" height="4.02" fill="#ffa048"/>
<rect x="1211.00" y="1299.00" width="4.00" height="4.02" fill="#ff8030"/>
<rect x="1271.00" y="1299.00" width="4.00" height="4.02" fill="#c85818"/>
<rect x="1219.00" y="1303.00" width="48.00" height="4.02" fill="#ffb862"/>
<rect x="1215.00" y="1303.00" width="4.00" height="4.02" fill="#ffa048"/>
<rect x="1267.00" y="1303.00" width="4.00" height="4.02" fill="#e87020"/>
<rect x="1223.00" y="1307.00" width="40.00" height="4.02" fill="#ffa850"/>
<rect x="1219.00" y="1307.00" width="4.00" height="4.02" fill="#ff9440"/>
<rect x="1263.00" y="1307.00" width="4.00" height="4.02" fill="#ff8028"/>
<rect x="1223.00" y="1311.00" width="36.00" height="4.02" fill="#ff9238"/>
<rect x="1207.00" y="1700.50" width="68.00" height="4.02" fill="#a8582a"/>
<rect x="1211.00" y="1696.50" width="60.00" height="4.02" fill="#cc6428"/>
<rect x="1215.00" y="1692.50" width="52.00" height="4.02" fill="#f47c34"/>
<rect x="1468.00" y="1192.00" width="3.00" height="512.50" fill="#c8c8c8"/>
<rect x="1392.00" y="1191.00" width="76.00" height="513.50" fill="#227ed6"/>
<rect x="1392.00" y="1191.00" width="4.02" height="513.50" fill="#5f84b6"/>
<rect x="1396.00" y="1191.00" width="4.02" height="513.50" fill="#1662b2"/>
<rect x="1400.00" y="1191.00" width="4.02" height="513.50" fill="#1a74cc"/>
<rect x="1448.00" y="1191.00" width="4.02" height="513.50" fill="#2278d0"/>
<rect x="1452.00" y="1191.00" width="4.02" height="513.50" fill="#1c6cc0"/>
<rect x="1456.00" y="1191.00" width="4.02" height="513.50" fill="#1460b0"/>
<rect x="1460.00" y="1191.00" width="4.02" height="513.50" fill="#0a4a8a"/>
<rect x="1464.00" y="1191.00" width="4.02" height="513.50" fill="#042448"/>
<rect x="1392.00" y="1191.00" width="76.00" height="4.00" fill="#6a98cf"/>
<rect x="1400.00" y="1195.00" width="64.00" height="4.02" fill="#1878d4"/>
<rect x="1404.00" y="1199.00" width="56.00" height="4.02" fill="#3a90ec"/>
<rect x="1460.00" y="1199.00" width="4.00" height="4.02" fill="#0a4e90"/>
<rect x="1408.00" y="1203.00" width="48.00" height="4.02" fill="#62b0fe"/>
<rect x="1404.00" y="1203.00" width="4.00" height="4.02" fill="#3a8ee6"/>
<rect x="1456.00" y="1203.00" width="4.00" height="4.02" fill="#1a66b8"/>
<rect x="1412.00" y="1207.00" width="40.00" height="4.02" fill="#4ea2f6"/>
<rect x="1408.00" y="1207.00" width="4.00" height="4.02" fill="#3a8ee6"/>
<rect x="1452.00" y="1207.00" width="4.00" height="4.02" fill="#2476cc"/>
<rect x="1412.00" y="1211.00" width="36.00" height="4.02" fill="#2a86dc"/>
<rect x="1396.00" y="1700.50" width="68.00" height="4.02" fill="#24528a"/>
<rect x="1400.00" y="1696.50" width="60.00" height="4.02" fill="#2c5e98"/>
<rect x="1404.00" y="1692.50" width="52.00" height="4.02" fill="#3272be"/>
<rect x="1404.00" y="1688.50" width="44.00" height="4.02" fill="#2a7ace"/>
<rect x="1544.00" y="1392.60" width="3.00" height="311.90" fill="#c8c8c8"/>
<rect x="1468.00" y="1391.60" width="76.00" height="312.90" fill="#ff872d"/>
<rect x="1468.00" y="1391.60" width="4.02" height="312.90" fill="#b8683e"/>
<rect x="1472.00" y="1391.60" width="4.02" height="312.90" fill="#e86c1e"/>
<rect x="1476.00" y="1391.60" width="4.02" height="312.90" fill="#ff7e24"/>
<rect x="1524.00" y="1391.60" width="4.02" height="312.90" fill="#ff7e24"/>
<rect x="1528.00" y="1391.60" width="4.02" height="312.90" fill="#f07020"/>
<rect x="1532.00" y="1391.60" width="4.02" height="312.90" fill="#d05c14"/>
<rect x="1536.00" y="1391.60" width="4.02" height="312.90" fill="#a04510"/>
<rect x="1540.00" y="1391.60" width="4.02" height="312.90" fill="#4a1a02"/>
<rect x="1468.00" y="1391.60" width="76.00" height="4.00" fill="#ff985a"/>
<rect x="1472.00" y="1395.60" width="68.00" height="4.02" fill="#ff8a2e"/>
<rect x="1480.00" y="1399.60" width="56.00" height="4.02" fill="#ffa048"/>
<rect x="1476.00" y="1399.60" width="4.00" height="4.02" fill="#ff8030"/>
<rect x="1536.00" y="1399.60" width="4.00" height="4.02" fill="#c85818"/>
<rect x="1484.00" y="1403.60" width="48.00" height="4.02" fill="#ffb862"/>
<rect x="1480.00" y="1403.60" width="4.00" height="4.02" fill="#ffa048"/>
<rect x="1532.00" y="1403.60" width="4.00" height="4.02" fill="#e87020"/>
<rect x="1488.00" y="1407.60" width="40.00" height="4.02" fill="#ffa850"/>
<rect x="1484.00" y="1407.60" width="4.00" height="4.02" fill="#ff9440"/>
<rect x="1528.00" y="1407.60" width="4.00" height="4.02" fill="#ff8028"/>
<rect x="1488.00" y="1411.60" width="36.00" height="4.02" fill="#ff9238"/>
<rect x="1472.00" y="1700.50" width="68.00" height="4.02" fill="#a8582a"/>
<rect x="1476.00" y="1696.50" width="60.00" height="4.02" fill="#cc6428"/>
<rect x="1480.00" y="1692.50" width="52.00" height="4.02" fill="#f47c34"/>
<rect x="1738.00" y="1120.00" width="3.00" height="584.50" fill="#c8c8c8"/>
<rect x="1662.00" y="1119.00" width="76.00" height="585.50" fill="#227ed6"/>
<rect x="1662.00" y="1119.00" width="4.02" height="585.50" fill="#5f84b6"/>
<rect x="1666.00" y="1119.00" width="4.02" height="585.50" fill="#1662b2"/>
<rect x="1670.00" y="1119.00" width="4.02" height="585.50" fill="#1a74cc"/>
<rect x="1718.00" y="1119.00" width="4.02" height="585.50" fill="#2278d0"/>
<rect x="1722.00" y="1119.00" width="4.02" height="585.50" fill="#1c6cc0"/>
<rect x="1726.00" y="1119.00" width="4.02" height="585.50" fill="#1460b0"/>
<rect x="1730.00" y="1119.00" width="4.02" height="585.50" fill="#0a4a8a"/>
<rect x="1734.00" y="1119.00" width="4.02" height="585.50" fill="#042448"/>
<rect x="1662.00" y="1119.00" width="76.00" height="4.00" fill="#6a98cf"/>
<rect x="1670.00" y="1123.00" width="64.00" height="4.02" fill="#1878d4"/>
<rect x="1674.00" y="1127.00" width="56.00" height="4.02" fill="#3a90ec"/>
<rect x="1730.00" y="1127.00" width="4.00" height="4.02" fill="#0a4e90"/>
<rect x="1678.00" y="1131.00" width="48.00" height="4.02" fill="#62b0fe"/>
<rect x="1674.00" y="1131.00" width="4.00" height="4.02" fill="#3a8ee6"/>
<rect x="1726.00" y="1131.00" width="4.00" height="4.02" fill="#1a66b8"/>
<rect x="1682.00" y="1135.00" width="40.00" height="4.02" fill="#4ea2f6"/>
<rect x="1678.00" y="1135.00" width="4.00" height="4.02" fill="#3a8ee6"/>
<rect x="1722.00" y="1135.00" width="4.00" height="4.02" fill="#2476cc"/>
<rect x="1682.00" y="1139.00" width="36.00" height="4.02" fill="#2a86dc"/>
<rect x="1666.00" y="1700.50" width="68.00" height="4.02" fill="#24528a"/>
<rect x="1670.00" y="1696.50" width="60.00" height="4.02" fill="#2c5e98"/>
<rect x="1674.00" y="1692.50" width="52.00" height="4.02" fill="#3272be"/>
<rect x="1674.00" y="1688.50" width="44.00" height="4.02" fill="#2a7ace"/>
<rect x="1814.00" y="1372.50" width="3.00" height="332.00" fill="#c8c8c8"/>
<rect x="1738.00" y="1371.50" width="76.00" height="333.00" fill="#ff872d"/>
<rect x="1738.00" y="1371.50" width="4.02" height="333.00" fill="#b8683e"/>
<rect x="1742.00" y="1371.50" width="4.02" height="333.00" fill="#e86c1e"/>
<rect x="1746.00" y="1371.50" width="4.02" height="333.00" fill="#ff7e24"/>
<rect x="1794.00" y="1371.50" width="4.02" height="333.00" fill="#ff7e24"/>
<rect x="1798.00" y="1371.50" width="4.02" height="333.00" fill="#f07020"/>
<rect x="1802.00" y="1371.50" width="4.02" height="333.00" fill="#d05c14"/>
<rect x="1806.00" y="1371.50" width="4.02" height="333.00" fill="#a04510"/>
<rect x="1810.00" y="1371.50" width="4.02" height="333.00" fill="#4a1a02"/>
<rect x="1738.00" y="1371.50" width="76.00" height="4.00" fill="#ff985a"/>
<rect x="1742.00" y="1375.50" width="68.00" height="4.02" fill="#ff8a2e"/>
<rect x="1750.00" y="1379.50" width="56.00" height="4.02" fill="#ffa048"/>
<rect x="1746.00" y="1379.50" width="4.00" height="4.02" fill="#ff8030"/>
<rect x="1806.00" y="1379.50" width="4.00" height="4.02" fill="#c85818"/>
<rect x="1754.00" y="1383.50" width="48.00" height="4.02" fill="#ffb862"/>
<rect x="1750.00" y="1383.50" width="4.00" height="4.02" fill="#ffa048"/>
<rect x="1802.00" y="1383.50" width="4.00" height="4.02" fill="#e87020"/>
<rect x="1758.00" y="1387.50" width="40.00" height="4.02" fill="#ffa850"/>
<rect x="1754.00" y="1387.50" width="4.00" height="4.02" fill="#ff9440"/>
<rect x="1798.00" y="1387.50" width="4.00" height="4.02" fill="#ff8028"/>
<rect x="1758.00" y="1391.50" width="36.00" height="4.02" fill="#ff9238"/>
<rect x="1742.00" y="1700.50" width="68.00" height="4.02" fill="#a8582a"/>
<rect x="1746.00" y="1696.50" width="60.00" height="4.02" fill="#cc6428"/>
<rect x="1750.00" y="1692.50" width="52.00" height="4.02" fill="#f47c34"/>
<rect x="2005.00" y="1256.00" width="3.00" height="448.50" fill="#c8c8c8"/>
<rect x="1929.00" y="1255.00" width="76.00" height="449.50" fill="#227ed6"/>
<rect x="1929.00" y="1255.00" width="4.02" height="449.50" fill="#5f84b6"/>
<rect x="1933.00" y="1255.00" width="4.02" height="449.50" fill="#1662b2"/>
<rect x="1937.00" y="1255.00" width="4.02" height="449.50" fill="#1a74cc"/>
<rect x="1985.00" y="1255.00" width="4.02" height="449.50" fill="#2278d0"/>
<rect x="1989.00" y="1255.00" width="4.02" height="449.50" fill="#1c6cc0"/>
<rect x="1993.00" y="1255.00" width="4.02" height="449.50" fill="#1460b0"/>
<rect x="1997.00" y="1255.00" width="4.02" height="449.50" fill="#0a4a8a"/>
<rect x="2001.00" y="1255.00" width="4.02" height="449.50" fill="#042448"/>
<rect x="1929.00" y="1255.00" width="76.00" height="4.00" fill="#6a98cf"/>
<rect x="1937.00" y="1259.00" width="64.00" height="4.02" fill="#1878d4"/>
<rect x="1941.00" y="1263.00" width="56.00" height="4.02" fill="#3a90ec"/>
<rect x="1997.00" y="1263.00" width="4.00" height="4.02" fill="#0a4e90"/>
<rect x="1945.00" y="1267.00" width="48.00" height="4.02" fill="#62b0fe"/>
<rect x="1941.00" y="1267.00" width="4.00" height="4.02" fill="#3a8ee6"/>
<rect x="1993.00" y="1267.00" width="4.00" height="4.02" fill="#1a66b8"/>
<rect x="1949.00" y="1271.00" width="40.00" height="4.02" fill="#4ea2f6"/>
<rect x="1945.00" y="1271.00" width="4.00" height="4.02" fill="#3a8ee6"/>
<rect x="1989.00" y="1271.00" width="4.00" height="4.02" fill="#2476cc"/>
<rect x="1949.00" y="1275.00" width="36.00" height="4.02" fill="#2a86dc"/>
<rect x="1933.00" y="1700.50" width="68.00" height="4.02" fill="#24528a"/>
<rect x="1937.00" y="1696.50" width="60.00" height="4.02" fill="#2c5e98"/>
<rect x="1941.00" y="1692.50" width="52.00" height="4.02" fill="#3272be"/>
<rect x="1941.00" y="1688.50" width="44.00" height="4.02" fill="#2a7ace"/>
<rect x="2081.00" y="1401.00" width="3.00" height="303.50" fill="#c8c8c8"/>
<rect x="2005.00" y="1400.00" width="76.00" height="304.50" fill="#ff872d"/>
<rect x="2005.00" y="1400.00" width="4.02" height="304.50" fill="#b8683e"/>
<rect x="2009.00" y="1400.00" width="4.02" height="304.50" fill="#e86c1e"/>
<rect x="2013.00" y="1400.00" width="4.02" height="304.50" fill="#ff7e24"/>
<rect x="2061.00" y="1400.00" width="4.02" height="304.50" fill="#ff7e24"/>
<rect x="2065.00" y="1400.00" width="4.02" height="304.50" fill="#f07020"/>
<rect x="2069.00" y="1400.00" width="4.02" height="304.50" fill="#d05c14"/>
<rect x="2073.00" y="1400.00" width="4.02" height="304.50" fill="#a04510"/>
<rect x="2077.00" y="1400.00" width="4.02" height="304.50" fill="#4a1a02"/>
<rect x="2005.00" y="1400.00" width="76.00" height="4.00" fill="#ff985a"/>
<rect x="2009.00" y="1404.00" width="68.00" height="4.02" fill="#ff8a2e"/>
<rect x="2017.00" y="1408.00" width="56.00" height="4.02" fill="#ffa048"/>
<rect x="2013.00" y="1408.00" width="4.00" height="4.02" fill="#ff8030"/>
<rect x="2073.00" y="1408.00" width="4.00" height="4.02" fill="#c85818"/>
<rect x="2021.00" y="1412.00" width="48.00" height="4.02" fill="#ffb862"/>
<rect x="2017.00" y="1412.00" width="4.00" height="4.02" fill="#ffa048"/>
<rect x="2069.00" y="1412.00" width="4.00" height="4.02" fill="#e87020"/>
<rect x="2025.00" y="1416.00" width="40.00" height="4.02" fill="#ffa850"/>
<rect x="2021.00" y="1416.00" width="4.00" height="4.02" fill="#ff9440"/>
<rect x="2065.00" y="1416.00" width="4.00" height="4.02" fill="#ff8028"/>
<rect x="2025.00" y="1420.00" width="36.00" height="4.02" fill="#ff9238"/>
<rect x="2009.00" y="1700.50" width="68.00" height="4.02" fill="#a8582a"/>
<rect x="2013.00" y="1696.50" width="60.00" height="4.02" fill="#cc6428"/>
<rect x="2017.00" y="1692.50" width="52.00" height="4.02" fill="#f47c34"/>
<text x="351.81" y="1191.00" font-size="58" font-family="Liberation Serif, serif" font-weight="bold" stroke="#fff" stroke-width="1">c</text>
<text x="425.63" y="1263.00" font-size="58" font-family="Liberation Serif, serif" font-weight="bold" stroke="#fff" stroke-width="1">b</text>
<text x="619.80" y="1331.00" font-size="58" font-family="Liberation Serif, serif" font-weight="bold" stroke="#fff" stroke-width="1">e</text>
<text x="690.53" y="1327.00" font-size="58" font-family="Liberation Serif, serif" font-weight="bold" stroke="#fff" stroke-width="1">d</text>
<text x="881.03" y="1247.00" font-size="58" font-family="Liberation Serif, serif" font-weight="bold" stroke="#fff" stroke-width="1">d</text>
<text x="961.30" y="1335.00" font-size="58" font-family="Liberation Serif, serif" font-weight="bold" stroke="#fff" stroke-width="1">e</text>
<text x="1150.07" y="1381.18" font-size="58" font-family="Liberation Serif, serif" font-weight="bold" stroke="#fff" stroke-width="1">g</text>
<text x="1226.07" y="1259.00" font-size="58" font-family="Liberation Serif, serif" font-weight="bold" stroke="#fff" stroke-width="1">a</text>
<text x="1414.63" y="1158.50" font-size="58" font-family="Liberation Serif, serif" font-weight="bold" stroke="#fff" stroke-width="1">b</text>
<text x="1499.35" y="1363.00" font-size="58" font-family="Liberation Serif, serif" font-weight="bold" stroke="#fff" stroke-width="1">f</text>
<text x="1683.07" y="1087.00" font-size="58" font-family="Liberation Serif, serif" font-weight="bold" stroke="#fff" stroke-width="1">a</text>
<text x="1759.31" y="1339.00" font-size="58" font-family="Liberation Serif, serif" font-weight="bold" stroke="#fff" stroke-width="1">c</text>
<text x="1954.85" y="1227.00" font-size="58" font-family="Liberation Serif, serif" font-weight="bold" stroke="#fff" stroke-width="1">f</text>
<text x="2024.57" y="1373.28" font-size="58" font-family="Liberation Serif, serif" font-weight="bold" stroke="#fff" stroke-width="1">g</text>
<rect x="365.00" y="1197.00" width="4.00" height="48.00" fill="#000"/>
<rect x="357.00" y="1195.00" width="20.00" height="4.00" fill="#000" fill-opacity="0.5"/>
<rect x="360.50" y="1195.00" width="13.00" height="4.00" fill="#000"/>
<rect x="357.00" y="1243.00" width="20.00" height="4.00" fill="#000" fill-opacity="0.5"/>
<rect x="360.50" y="1243.00" width="13.00" height="4.00" fill="#000"/>
<rect x="441.00" y="1273.00" width="4.00" height="40.00" fill="#000"/>
<rect x="433.00" y="1271.00" width="20.00" height="4.00" fill="#000" fill-opacity="0.5"/>
<rect x="436.50" y="1271.00" width="13.00" height="4.00" fill="#000"/>
<rect x="433.00" y="1311.00" width="20.00" height="4.00" fill="#000" fill-opacity="0.5"/>
<rect x="436.50" y="1311.00" width="13.00" height="4.00" fill="#000"/>
<rect x="630.00" y="1345.00" width="4.00" height="36.00" fill="#000"/>
<rect x="622.00" y="1343.00" width="20.00" height="4.00" fill="#000" fill-opacity="0.5"/>
<rect x="625.50" y="1343.00" width="13.00" height="4.00" fill="#000"/>
<rect x="622.00" y="1379.00" width="20.00" height="4.00" fill="#000" fill-opacity="0.5"/>
<rect x="625.50" y="1379.00" width="13.00" height="4.00" fill="#000"/>
<rect x="705.00" y="1341.00" width="4.00" height="36.00" fill="#000"/>
<rect x="697.00" y="1339.00" width="20.00" height="4.00" fill="#000" fill-opacity="0.5"/>
<rect x="700.50" y="1339.00" width="13.00" height="4.00" fill="#000"/>
<rect x="697.00" y="1375.00" width="20.00" height="4.00" fill="#000" fill-opacity="0.5"/>
<rect x="700.50" y="1375.00" width="13.00" height="4.00" fill="#000"/>
<rect x="894.00" y="1257.00" width="4.00" height="44.00" fill="#000"/>
<rect x="886.00" y="1255.00" width="20.00" height="4.00" fill="#000" fill-opacity="0.5"/>
<rect x="889.50" y="1255.00" width="13.00" height="4.00" fill="#000"/>
<rect x="886.00" y="1299.00" width="20.00" height="4.00" fill="#000" fill-opacity="0.5"/>
<rect x="889.50" y="1299.00" width="13.00" height="4.00" fill="#000"/>
<rect x="970.00" y="1349.00" width="4.00" height="32.00" fill="#000"/>
<rect x="962.00" y="1347.00" width="20.00" height="4.00" fill="#000" fill-opacity="0.5"/>
<rect x="965.50" y="1347.00" width="13.00" height="4.00" fill="#000"/>
<rect x="962.00" y="1379.00" width="20.00" height="4.00" fill="#000" fill-opacity="0.5"/>
<rect x="965.50" y="1379.00" width="13.00" height="4.00" fill="#000"/>
<rect x="1163.00" y="1397.00" width="4.00" height="28.00" fill="#000"/>
<rect x="1155.00" y="1395.00" width="20.00" height="4.00" fill="#000" fill-opacity="0.5"/>
<rect x="1158.50" y="1395.00" width="13.00" height="4.00" fill="#000"/>
<rect x="1155.00" y="1423.00" width="20.00" height="4.00" fill="#000" fill-opacity="0.5"/>
<rect x="1158.50" y="1423.00" width="13.00" height="4.00" fill="#000"/>
<rect x="1239.00" y="1269.00" width="4.00" height="40.00" fill="#000"/>
<rect x="1231.00" y="1267.00" width="20.00" height="4.00" fill="#000" fill-opacity="0.5"/>
<rect x="1234.50" y="1267.00" width="13.00" height="4.00" fill="#000"/>
<rect x="1231.00" y="1307.00" width="20.00" height="4.00" fill="#000" fill-opacity="0.5"/>
<rect x="1234.50" y="1307.00" width="13.00" height="4.00" fill="#000"/>
<rect x="1428.00" y="1165.00" width="4.00" height="52.00" fill="#000"/>
<rect x="1420.00" y="1163.00" width="20.00" height="4.00" fill="#000" fill-opacity="0.5"/>
<rect x="1423.50" y="1163.00" width="13.00" height="4.00" fill="#000"/>
<rect x="1420.00" y="1215.00" width="20.00" height="4.00" fill="#000" fill-opacity="0.5"/>
<rect x="1423.50" y="1215.00" width="13.00" height="4.00" fill="#000"/>
<rect x="1504.00" y="1377.00" width="4.00" height="32.00" fill="#000"/>
<rect x="1496.00" y="1375.00" width="20.00" height="4.00" fill="#000" fill-opacity="0.5"/>
<rect x="1499.50" y="1375.00" width="13.00" height="4.00" fill="#000"/>
<rect x="1496.00" y="1407.00" width="20.00" height="4.00" fill="#000" fill-opacity="0.5"/>
<rect x="1499.50" y="1407.00" width="13.00" height="4.00" fill="#000"/>
<rect x="1697.00" y="1086.00" width="4.00" height="63.00" fill="#000"/>
<rect x="1689.00" y="1147.00" width="20.00" height="4.00" fill="#000" fill-opacity="0.5"/>
<rect x="1692.50" y="1147.00" width="13.00" height="4.00" fill="#000"/>
<rect x="1773.00" y="1353.00" width="4.00" height="32.00" fill="#000"/>
<rect x="1765.00" y="1351.00" width="20.00" height="4.00" fill="#000" fill-opacity="0.5"/>
<rect x="1768.50" y="1351.00" width="13.00" height="4.00" fill="#000"/>
<rect x="1765.00" y="1383.00" width="20.00" height="4.00" fill="#000" fill-opacity="0.5"/>
<rect x="1768.50" y="1383.00" width="13.00" height="4.00" fill="#000"/>
<rect x="1961.00" y="1233.00" width="4.00" height="44.00" fill="#000"/>
<rect x="1953.00" y="1231.00" width="20.00" height="4.00" fill="#000" fill-opacity="0.5"/>
<rect x="1956.50" y="1231.00" width="13.00" height="4.00" fill="#000"/>
<rect x="1953.00" y="1275.00" width="20.00" height="4.00" fill="#000" fill-opacity="0.5"/>
<rect x="1956.50" y="1275.00" width="13.00" height="4.00" fill="#000"/>
<rect x="2037.00" y="1386.00" width="4.00" height="32.00" fill="#000"/>
<rect x="2029.00" y="1416.00" width="20.00" height="4.00" fill="#000" fill-opacity="0.5"/>
<rect x="2032.50" y="1416.00" width="13.00" height="4.00" fill="#000"/>
<rect x="264.00" y="930.00" width="8.00" height="790.50" fill="#000"/>
<rect x="252.00" y="1704.50" width="1886.00" height="8.00" fill="#000"/>
<rect x="252.00" y="926.00" width="12.00" height="8.00" fill="#000"/>
<text transform="translate(175.79,945.68) scale(1.0400,1)" font-size="46" font-family="Liberation Serif, serif" stroke="#000" stroke-width="1.7">12</text>
<rect x="252.00" y="1054.50" width="12.00" height="8.00" fill="#000"/>
<text transform="translate(175.07,1073.57) scale(1.0400,1)" font-size="46" font-family="Liberation Serif, serif" stroke="#000" stroke-width="1.7">10</text>
<rect x="252.00" y="1187.00" width="12.00" height="8.00" fill="#000"/>
<text transform="translate(198.99,1202.27) scale(1.0400,1)" font-size="46" font-family="Liberation Serif, serif" stroke="#000" stroke-width="1.7">8</text>
<rect x="252.00" y="1315.50" width="12.00" height="8.00" fill="#000"/>
<text transform="translate(198.52,1334.45) scale(1.0400,1)" font-size="46" font-family="Liberation Serif, serif" stroke="#000" stroke-width="1.7">6</text>
<rect x="252.00" y="1448.00" width="12.00" height="8.00" fill="#000"/>
<text transform="translate(197.80,1463.58) scale(1.0400,1)" font-size="46" font-family="Liberation Serif, serif" stroke="#000" stroke-width="1.7">4</text>
<rect x="252.00" y="1576.50" width="12.00" height="8.00" fill="#000"/>
<text transform="translate(199.71,1595.68) scale(1.0400,1)" font-size="46" font-family="Liberation Serif, serif" stroke="#000" stroke-width="1.7">2</text>
<rect x="252.00" y="1704.50" width="12.00" height="8.00" fill="#000"/>
<text transform="translate(198.99,1723.57) scale(1.0400,1)" font-size="46" font-family="Liberation Serif, serif" stroke="#000" stroke-width="1.7">0</text>
<rect x="533.00" y="1708.50" width="8.00" height="12.00" fill="#000"/>
<rect x="798.00" y="1708.50" width="8.00" height="12.00" fill="#000"/>
<rect x="1067.00" y="1708.50" width="8.00" height="12.00" fill="#000"/>
<rect x="1331.00" y="1708.50" width="8.00" height="12.00" fill="#000"/>
<rect x="1600.00" y="1708.50" width="8.00" height="12.00" fill="#000"/>
<rect x="1865.00" y="1708.50" width="8.00" height="12.00" fill="#000"/>
<rect x="2130.00" y="1708.50" width="8.00" height="12.00" fill="#000"/>
<text transform="translate(361.72,1785.00) scale(1.0122,1)" font-size="54.89" font-family="Liberation Serif, serif" font-weight="bold" stroke="#fff" stroke-width="1">CK</text>
<text transform="translate(628.22,1785.00) scale(0.9460,1)" font-size="54.89" font-family="Liberation Serif, serif" font-weight="bold" stroke="#fff" stroke-width="1">P10</text>
<text transform="translate(893.69,1785.00) scale(0.9810,1)" font-size="54.89" font-family="Liberation Serif, serif" font-weight="bold" stroke="#fff" stroke-width="1">P20</text>
<text transform="translate(1159.70,1785.00) scale(0.9694,1)" font-size="54.89" font-family="Liberation Serif, serif" font-weight="bold" stroke="#fff" stroke-width="1">P30</text>
<text transform="translate(1355.93,1785.00) scale(0.9297,1)" font-size="54.89" font-family="Liberation Serif, serif" font-weight="bold" stroke="#fff" stroke-width="1">P10+NaCl</text>
<text transform="translate(1623.53,1785.00) scale(0.9297,1)" font-size="54.89" font-family="Liberation Serif, serif" font-weight="bold" stroke="#fff" stroke-width="1">P20+NaCl</text>
<text transform="translate(1889.03,1785.00) scale(0.9297,1)" font-size="54.89" font-family="Liberation Serif, serif" font-weight="bold" stroke="#fff" stroke-width="1">P30+NaCl</text>
<text transform="translate(15.96,100.52) scale(0.9974,1)" font-size="103.82" font-family="Liberation Serif, serif" font-weight="bold" stroke="#fff" stroke-width="1">A</text>
<text transform="translate(18.49,1030.00) scale(0.9709,1)" font-size="103.82" font-family="Liberation Serif, serif" font-weight="bold" stroke="#fff" stroke-width="1">B</text>
<rect x="974.00" y="36.00" width="4.05" height="4.05" fill="#7896c0"/>
<rect x="978.00" y="36.00" width="4.05" height="4.05" fill="#7aa6d8"/>
<rect x="982.00" y="36.00" width="4.05" height="4.05" fill="#7aa6d8"/>
<rect x="986.00" y="36.00" width="4.05" height="4.05" fill="#7aa6d8"/>
<rect x="990.00" y="36.00" width="4.05" height="4.05" fill="#7aa6d8"/>
<rect x="994.00" y="36.00" width="4.05" height="4.05" fill="#98b0cc"/>
<rect x="974.00" y="40.00" width="4.05" height="4.05" fill="#3a6494"/>
<rect x="978.00" y="40.00" width="4.05" height="4.05" fill="#1070cc"/>
<rect x="982.00" y="40.00" width="4.05" height="4.05" fill="#1272d0"/>
<rect x="986.00" y="40.00" width="4.05" height="4.05" fill="#1478d8"/>
<rect x="990.00" y="40.00" width="4.05" height="4.05" fill="#1a64b8"/>
<rect x="994.00" y="40.00" width="4.05" height="4.05" fill="#1f3a5c"/>
<rect x="974.00" y="44.00" width="4.05" height="4.05" fill="#3a6494"/>
<rect x="978.00" y="44.00" width="4.05" height="4.05" fill="#0f5ca8"/>
<rect x="982.00" y="44.00" width="4.05" height="4.05" fill="#2a82e0"/>
<rect x="986.00" y="44.00" width="4.05" height="4.05" fill="#2a80de"/>
<rect x="990.00" y="44.00" width="4.05" height="4.05" fill="#053a70"/>
<rect x="994.00" y="44.00" width="4.05" height="4.05" fill="#243650"/>
<rect x="974.00" y="48.00" width="4.05" height="4.05" fill="#3a6494"/>
<rect x="978.00" y="48.00" width="4.05" height="4.05" fill="#0f5ca8"/>
<rect x="982.00" y="48.00" width="4.05" height="4.05" fill="#1a70c8"/>
<rect x="986.00" y="48.00" width="4.05" height="4.05" fill="#1a5ca8"/>
<rect x="990.00" y="48.00" width="4.05" height="4.05" fill="#033868"/>
<rect x="994.00" y="48.00" width="4.05" height="4.05" fill="#243650"/>
<rect x="974.00" y="52.00" width="4.05" height="4.05" fill="#3a6494"/>
<rect x="978.00" y="52.00" width="4.05" height="4.05" fill="#0f5ca8"/>
<rect x="982.00" y="52.00" width="4.05" height="4.05" fill="#1e5088"/>
<rect x="986.00" y="52.00" width="4.05" height="4.05" fill="#1e4c86"/>
<rect x="990.00" y="52.00" width="4.05" height="4.05" fill="#0a3a6e"/>
<rect x="994.00" y="52.00" width="4.05" height="4.05" fill="#243650"/>
<rect x="974.00" y="56.00" width="4.05" height="4.05" fill="#3a6494"/>
<rect x="978.00" y="56.00" width="4.05" height="4.05" fill="#2e6298"/>
<rect x="982.00" y="56.00" width="4.05" height="4.05" fill="#2e6298"/>
<rect x="986.00" y="56.00" width="4.05" height="4.05" fill="#2e6298"/>
<rect x="990.00" y="56.00" width="4.05" height="4.05" fill="#2a5a92"/>
<rect x="994.00" y="56.00" width="4.05" height="4.05" fill="#243650"/>
<rect x="974.00" y="60.00" width="4.05" height="4.05" fill="#a4bcdc"/>
<rect x="978.00" y="60.00" width="4.05" height="4.05" fill="#90b4e0"/>
<rect x="982.00" y="60.00" width="4.05" height="4.05" fill="#90b4e0"/>
<rect x="986.00" y="60.00" width="4.05" height="4.05" fill="#90b4e0"/>
<rect x="990.00" y="60.00" width="4.05" height="4.05" fill="#90b4e0"/>
<rect x="994.00" y="60.00" width="4.05" height="4.05" fill="#98acc4"/>
<rect x="1143.00" y="36.00" width="4.05" height="4.05" fill="#e09878"/>
<rect x="1147.00" y="36.00" width="4.05" height="4.05" fill="#ffa878"/>
<rect x="1151.00" y="36.00" width="4.05" height="4.05" fill="#ffa878"/>
<rect x="1155.00" y="36.00" width="4.05" height="4.05" fill="#ffa878"/>
<rect x="1159.00" y="36.00" width="4.05" height="4.05" fill="#ffa878"/>
<rect x="1163.00" y="36.00" width="4.05" height="4.05" fill="#e8b090"/>
<rect x="1143.00" y="40.00" width="4.05" height="4.05" fill="#b86a3a"/>
<rect x="1147.00" y="40.00" width="4.05" height="4.05" fill="#ff7828"/>
<rect x="1151.00" y="40.00" width="4.05" height="4.05" fill="#ff8428"/>
<rect x="1155.00" y="40.00" width="4.05" height="4.05" fill="#ff8428"/>
<rect x="1159.00" y="40.00" width="4.05" height="4.05" fill="#f07020"/>
<rect x="1163.00" y="40.00" width="4.05" height="4.05" fill="#704028"/>
<rect x="1143.00" y="44.00" width="4.05" height="4.05" fill="#b86a3a"/>
<rect x="1147.00" y="44.00" width="4.05" height="4.05" fill="#e06820"/>
<rect x="1151.00" y="44.00" width="4.05" height="4.05" fill="#ff9038"/>
<rect x="1155.00" y="44.00" width="4.05" height="4.05" fill="#ff8c34"/>
<rect x="1159.00" y="44.00" width="4.05" height="4.05" fill="#a04c10"/>
<rect x="1163.00" y="44.00" width="4.05" height="4.05" fill="#5a3824"/>
<rect x="1143.00" y="48.00" width="4.05" height="4.05" fill="#b86a3a"/>
<rect x="1147.00" y="48.00" width="4.05" height="4.05" fill="#d8641e"/>
<rect x="1151.00" y="48.00" width="4.05" height="4.05" fill="#ff7c2a"/>
<rect x="1155.00" y="48.00" width="4.05" height="4.05" fill="#d06424"/>
<rect x="1159.00" y="48.00" width="4.05" height="4.05" fill="#904010"/>
<rect x="1163.00" y="48.00" width="4.05" height="4.05" fill="#5a3824"/>
<rect x="1143.00" y="52.00" width="4.05" height="4.05" fill="#b86a3a"/>
<rect x="1147.00" y="52.00" width="4.05" height="4.05" fill="#d8641e"/>
<rect x="1151.00" y="52.00" width="4.05" height="4.05" fill="#b05824"/>
<rect x="1155.00" y="52.00" width="4.05" height="4.05" fill="#a85420"/>
<rect x="1159.00" y="52.00" width="4.05" height="4.05" fill="#904010"/>
<rect x="1163.00" y="52.00" width="4.05" height="4.05" fill="#5a3824"/>
<rect x="1143.00" y="56.00" width="4.05" height="4.05" fill="#b86a3a"/>
<rect x="1147.00" y="56.00" width="4.05" height="4.05" fill="#c86a36"/>
<rect x="1151.00" y="56.00" width="4.05" height="4.05" fill="#c86a36"/>
<rect x="1155.00" y="56.00" width="4.05" height="4.05" fill="#c86a36"/>
<rect x="1159.00" y="56.00" width="4.05" height="4.05" fill="#b86834"/>
<rect x="1163.00" y="56.00" width="4.05" height="4.05" fill="#5a3824"/>
<rect x="1143.00" y="60.00" width="4.05" height="4.05" fill="#f0c0a0"/>
<rect x="1147.00" y="60.00" width="4.05" height="4.05" fill="#ffb490"/>
<rect x="1151.00" y="60.00" width="4.05" height="4.05" fill="#ffb490"/>
<rect x="1155.00" y="60.00" width="4.05" height="4.05" fill="#ffb490"/>
<rect x="1159.00" y="60.00" width="4.05" height="4.05" fill="#ffb490"/>
<rect x="1163.00" y="60.00" width="4.05" height="4.05" fill="#d0b0a0"/>
<text transform="translate(1006.56,63.04) scale(1.0119,1)" font-size="46.27" font-family="Liberation Serif, serif" stroke="#000" stroke-width="1.7">JM21</text>
<text transform="translate(1172.45,63.04) scale(1.0136,1)" font-size="46.27" font-family="Liberation Serif, serif" stroke="#000" stroke-width="1.7">SK39</text>
<text transform="translate(151.5,710) rotate(-90)" font-size="53" font-family="Liberation Serif, serif" stroke="#000" stroke-width="1.8" textLength="504" lengthAdjust="spacingAndGlyphs">Shoot length (g plant<tspan font-size="32.9" dy="-19.1">-1</tspan><tspan dy="19.1">)</tspan></text>
<text transform="translate(151.5,1568) rotate(-90)" font-size="53" font-family="Liberation Serif, serif" stroke="#000" stroke-width="1.8" textLength="489" lengthAdjust="spacingAndGlyphs">Root length (g plant<tspan font-size="32.9" dy="-19.1">-1</tspan><tspan dy="19.1">)</tspan></text>
</g>
</svg></body></html>
